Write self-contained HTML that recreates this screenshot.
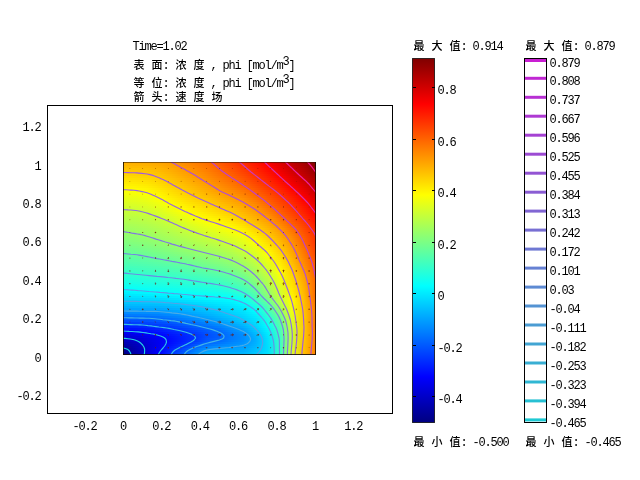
<!DOCTYPE html>
<html lang="zh"><head><meta charset="utf-8"><title>Time=1.02</title>
<style>html,body{margin:0;padding:0;background:#fff}svg{display:block}text{font-family:"Liberation Mono","Noto Serif CJK SC",monospace;fill:#000}.l{font-size:12px}.c{font-size:11px;font-weight:500;font-family:"Liberation Sans","Noto Sans CJK SC",sans-serif}</style></head><body>
<svg width="640" height="480" viewBox="0 0 640 480">
<rect width="640" height="480" fill="#fff"/>
<defs>
<linearGradient id="r0"><stop offset="0" stop-color="#ffb000"/><stop offset="0.0625" stop-color="#ffaf00"/><stop offset="0.125" stop-color="#ffac00"/><stop offset="0.1875" stop-color="#ffa600"/><stop offset="0.25" stop-color="#ff9b00"/><stop offset="0.3125" stop-color="#ff8c00"/><stop offset="0.375" stop-color="#ff7e00"/><stop offset="0.4375" stop-color="#ff6e00"/><stop offset="0.5" stop-color="#ff5900"/><stop offset="0.5625" stop-color="#ff4400"/><stop offset="0.625" stop-color="#ff2d00"/><stop offset="0.6875" stop-color="#ff1400"/><stop offset="0.75" stop-color="#fa0000"/><stop offset="0.8125" stop-color="#dd0000"/><stop offset="0.875" stop-color="#c00000"/><stop offset="0.9375" stop-color="#a40000"/><stop offset="1" stop-color="#800000"/></linearGradient>
<linearGradient id="r1"><stop offset="0" stop-color="#ffb600"/><stop offset="0.0625" stop-color="#ffb400"/><stop offset="0.125" stop-color="#ffb200"/><stop offset="0.1875" stop-color="#ffab00"/><stop offset="0.25" stop-color="#ffa000"/><stop offset="0.3125" stop-color="#ff9100"/><stop offset="0.375" stop-color="#ff8200"/><stop offset="0.4375" stop-color="#ff7200"/><stop offset="0.5" stop-color="#ff5d00"/><stop offset="0.5625" stop-color="#ff4800"/><stop offset="0.625" stop-color="#ff3100"/><stop offset="0.6875" stop-color="#ff1900"/><stop offset="0.75" stop-color="#ff0000"/><stop offset="0.8125" stop-color="#e20000"/><stop offset="0.875" stop-color="#c40000"/><stop offset="0.9375" stop-color="#a90000"/><stop offset="1" stop-color="#850000"/></linearGradient>
<linearGradient id="r2"><stop offset="0" stop-color="#ffbc00"/><stop offset="0.0625" stop-color="#ffba00"/><stop offset="0.125" stop-color="#ffb800"/><stop offset="0.1875" stop-color="#ffb000"/><stop offset="0.25" stop-color="#ffa400"/><stop offset="0.3125" stop-color="#ff9500"/><stop offset="0.375" stop-color="#ff8600"/><stop offset="0.4375" stop-color="#ff7600"/><stop offset="0.5" stop-color="#ff6200"/><stop offset="0.5625" stop-color="#ff4d00"/><stop offset="0.625" stop-color="#ff3600"/><stop offset="0.6875" stop-color="#ff1e00"/><stop offset="0.75" stop-color="#ff0500"/><stop offset="0.8125" stop-color="#e70000"/><stop offset="0.875" stop-color="#c90000"/><stop offset="0.9375" stop-color="#ae0000"/><stop offset="1" stop-color="#8b0000"/></linearGradient>
<linearGradient id="r3"><stop offset="0" stop-color="#ffc200"/><stop offset="0.0625" stop-color="#ffc000"/><stop offset="0.125" stop-color="#ffbd00"/><stop offset="0.1875" stop-color="#ffb500"/><stop offset="0.25" stop-color="#ffa900"/><stop offset="0.3125" stop-color="#ff9a00"/><stop offset="0.375" stop-color="#ff8b00"/><stop offset="0.4375" stop-color="#ff7a00"/><stop offset="0.5" stop-color="#ff6600"/><stop offset="0.5625" stop-color="#ff5100"/><stop offset="0.625" stop-color="#ff3b00"/><stop offset="0.6875" stop-color="#ff2200"/><stop offset="0.75" stop-color="#ff0900"/><stop offset="0.8125" stop-color="#ec0000"/><stop offset="0.875" stop-color="#ce0000"/><stop offset="0.9375" stop-color="#b30000"/><stop offset="1" stop-color="#900000"/></linearGradient>
<linearGradient id="r4"><stop offset="0" stop-color="#ffc700"/><stop offset="0.0625" stop-color="#ffc600"/><stop offset="0.125" stop-color="#ffc300"/><stop offset="0.1875" stop-color="#ffba00"/><stop offset="0.25" stop-color="#ffae00"/><stop offset="0.3125" stop-color="#ff9e00"/><stop offset="0.375" stop-color="#ff8f00"/><stop offset="0.4375" stop-color="#ff7e00"/><stop offset="0.5" stop-color="#ff6a00"/><stop offset="0.5625" stop-color="#ff5600"/><stop offset="0.625" stop-color="#ff3f00"/><stop offset="0.6875" stop-color="#ff2700"/><stop offset="0.75" stop-color="#ff0e00"/><stop offset="0.8125" stop-color="#f10000"/><stop offset="0.875" stop-color="#d30000"/><stop offset="0.9375" stop-color="#b80000"/><stop offset="1" stop-color="#950000"/></linearGradient>
<linearGradient id="r5"><stop offset="0" stop-color="#ffcd00"/><stop offset="0.0625" stop-color="#ffcc00"/><stop offset="0.125" stop-color="#ffc900"/><stop offset="0.1875" stop-color="#ffbf00"/><stop offset="0.25" stop-color="#ffb200"/><stop offset="0.3125" stop-color="#ffa300"/><stop offset="0.375" stop-color="#ff9400"/><stop offset="0.4375" stop-color="#ff8300"/><stop offset="0.5" stop-color="#ff6f00"/><stop offset="0.5625" stop-color="#ff5b00"/><stop offset="0.625" stop-color="#ff4400"/><stop offset="0.6875" stop-color="#ff2c00"/><stop offset="0.75" stop-color="#ff1300"/><stop offset="0.8125" stop-color="#f60000"/><stop offset="0.875" stop-color="#d80000"/><stop offset="0.9375" stop-color="#bc0000"/><stop offset="1" stop-color="#9a0000"/></linearGradient>
<linearGradient id="r6"><stop offset="0" stop-color="#ffd400"/><stop offset="0.0625" stop-color="#ffd200"/><stop offset="0.125" stop-color="#ffce00"/><stop offset="0.1875" stop-color="#ffc400"/><stop offset="0.25" stop-color="#ffb700"/><stop offset="0.3125" stop-color="#ffa700"/><stop offset="0.375" stop-color="#ff9800"/><stop offset="0.4375" stop-color="#ff8700"/><stop offset="0.5" stop-color="#ff7300"/><stop offset="0.5625" stop-color="#ff5f00"/><stop offset="0.625" stop-color="#ff4900"/><stop offset="0.6875" stop-color="#ff3100"/><stop offset="0.75" stop-color="#ff1800"/><stop offset="0.8125" stop-color="#fb0000"/><stop offset="0.875" stop-color="#dd0000"/><stop offset="0.9375" stop-color="#c10000"/><stop offset="1" stop-color="#9f0000"/></linearGradient>
<linearGradient id="r7"><stop offset="0" stop-color="#ffda00"/><stop offset="0.0625" stop-color="#ffd800"/><stop offset="0.125" stop-color="#ffd400"/><stop offset="0.1875" stop-color="#ffc900"/><stop offset="0.25" stop-color="#ffbb00"/><stop offset="0.3125" stop-color="#ffac00"/><stop offset="0.375" stop-color="#ff9c00"/><stop offset="0.4375" stop-color="#ff8b00"/><stop offset="0.5" stop-color="#ff7800"/><stop offset="0.5625" stop-color="#ff6400"/><stop offset="0.625" stop-color="#ff4f00"/><stop offset="0.6875" stop-color="#ff3600"/><stop offset="0.75" stop-color="#ff1d00"/><stop offset="0.8125" stop-color="#ff0200"/><stop offset="0.875" stop-color="#e30000"/><stop offset="0.9375" stop-color="#c60000"/><stop offset="1" stop-color="#a40000"/></linearGradient>
<linearGradient id="r8"><stop offset="0" stop-color="#ffe000"/><stop offset="0.0625" stop-color="#ffde00"/><stop offset="0.125" stop-color="#ffd900"/><stop offset="0.1875" stop-color="#ffce00"/><stop offset="0.25" stop-color="#ffc000"/><stop offset="0.3125" stop-color="#ffb100"/><stop offset="0.375" stop-color="#ffa100"/><stop offset="0.4375" stop-color="#ff9000"/><stop offset="0.5" stop-color="#ff7d00"/><stop offset="0.5625" stop-color="#ff6900"/><stop offset="0.625" stop-color="#ff5400"/><stop offset="0.6875" stop-color="#ff3b00"/><stop offset="0.75" stop-color="#ff2200"/><stop offset="0.8125" stop-color="#ff0700"/><stop offset="0.875" stop-color="#e80000"/><stop offset="0.9375" stop-color="#cb0000"/><stop offset="1" stop-color="#a90000"/></linearGradient>
<linearGradient id="r9"><stop offset="0" stop-color="#ffe600"/><stop offset="0.0625" stop-color="#ffe400"/><stop offset="0.125" stop-color="#ffdf00"/><stop offset="0.1875" stop-color="#ffd300"/><stop offset="0.25" stop-color="#ffc500"/><stop offset="0.3125" stop-color="#ffb500"/><stop offset="0.375" stop-color="#ffa500"/><stop offset="0.4375" stop-color="#ff9400"/><stop offset="0.5" stop-color="#ff8100"/><stop offset="0.5625" stop-color="#ff6e00"/><stop offset="0.625" stop-color="#ff5900"/><stop offset="0.6875" stop-color="#ff4100"/><stop offset="0.75" stop-color="#ff2800"/><stop offset="0.8125" stop-color="#ff0d00"/><stop offset="0.875" stop-color="#ed0000"/><stop offset="0.9375" stop-color="#d00000"/><stop offset="1" stop-color="#ae0000"/></linearGradient>
<linearGradient id="r10"><stop offset="0" stop-color="#ffec00"/><stop offset="0.0625" stop-color="#ffea00"/><stop offset="0.125" stop-color="#ffe400"/><stop offset="0.1875" stop-color="#ffd800"/><stop offset="0.25" stop-color="#ffc900"/><stop offset="0.3125" stop-color="#ffba00"/><stop offset="0.375" stop-color="#ffaa00"/><stop offset="0.4375" stop-color="#ff9900"/><stop offset="0.5" stop-color="#ff8600"/><stop offset="0.5625" stop-color="#ff7400"/><stop offset="0.625" stop-color="#ff5f00"/><stop offset="0.6875" stop-color="#ff4600"/><stop offset="0.75" stop-color="#ff2d00"/><stop offset="0.8125" stop-color="#ff1200"/><stop offset="0.875" stop-color="#f30000"/><stop offset="0.9375" stop-color="#d60000"/><stop offset="1" stop-color="#b40000"/></linearGradient>
<linearGradient id="r11"><stop offset="0" stop-color="#fff100"/><stop offset="0.0625" stop-color="#fff000"/><stop offset="0.125" stop-color="#ffea00"/><stop offset="0.1875" stop-color="#ffdd00"/><stop offset="0.25" stop-color="#ffce00"/><stop offset="0.3125" stop-color="#ffbf00"/><stop offset="0.375" stop-color="#ffaf00"/><stop offset="0.4375" stop-color="#ff9e00"/><stop offset="0.5" stop-color="#ff8b00"/><stop offset="0.5625" stop-color="#ff7900"/><stop offset="0.625" stop-color="#ff6400"/><stop offset="0.6875" stop-color="#ff4c00"/><stop offset="0.75" stop-color="#ff3200"/><stop offset="0.8125" stop-color="#ff1800"/><stop offset="0.875" stop-color="#f80000"/><stop offset="0.9375" stop-color="#db0000"/><stop offset="1" stop-color="#b90000"/></linearGradient>
<linearGradient id="r12"><stop offset="0" stop-color="#fff700"/><stop offset="0.0625" stop-color="#fff500"/><stop offset="0.125" stop-color="#ffef00"/><stop offset="0.1875" stop-color="#ffe200"/><stop offset="0.25" stop-color="#ffd300"/><stop offset="0.3125" stop-color="#ffc300"/><stop offset="0.375" stop-color="#ffb400"/><stop offset="0.4375" stop-color="#ffa300"/><stop offset="0.5" stop-color="#ff9000"/><stop offset="0.5625" stop-color="#ff7e00"/><stop offset="0.625" stop-color="#ff6a00"/><stop offset="0.6875" stop-color="#ff5100"/><stop offset="0.75" stop-color="#ff3800"/><stop offset="0.8125" stop-color="#ff1d00"/><stop offset="0.875" stop-color="#fe0000"/><stop offset="0.9375" stop-color="#e00000"/><stop offset="1" stop-color="#be0000"/></linearGradient>
<linearGradient id="r13"><stop offset="0" stop-color="#fffd00"/><stop offset="0.0625" stop-color="#fffb00"/><stop offset="0.125" stop-color="#fff500"/><stop offset="0.1875" stop-color="#ffe800"/><stop offset="0.25" stop-color="#ffd800"/><stop offset="0.3125" stop-color="#ffc800"/><stop offset="0.375" stop-color="#ffb800"/><stop offset="0.4375" stop-color="#ffa800"/><stop offset="0.5" stop-color="#ff9500"/><stop offset="0.5625" stop-color="#ff8400"/><stop offset="0.625" stop-color="#ff7000"/><stop offset="0.6875" stop-color="#ff5700"/><stop offset="0.75" stop-color="#ff3d00"/><stop offset="0.8125" stop-color="#ff2300"/><stop offset="0.875" stop-color="#ff0500"/><stop offset="0.9375" stop-color="#e50000"/><stop offset="1" stop-color="#c30000"/></linearGradient>
<linearGradient id="r14"><stop offset="0" stop-color="#fcff03"/><stop offset="0.0625" stop-color="#fdff02"/><stop offset="0.125" stop-color="#fffa00"/><stop offset="0.1875" stop-color="#ffed00"/><stop offset="0.25" stop-color="#ffdd00"/><stop offset="0.3125" stop-color="#ffcd00"/><stop offset="0.375" stop-color="#ffbd00"/><stop offset="0.4375" stop-color="#ffad00"/><stop offset="0.5" stop-color="#ff9a00"/><stop offset="0.5625" stop-color="#ff8a00"/><stop offset="0.625" stop-color="#ff7600"/><stop offset="0.6875" stop-color="#ff5d00"/><stop offset="0.75" stop-color="#ff4300"/><stop offset="0.8125" stop-color="#ff2900"/><stop offset="0.875" stop-color="#ff0a00"/><stop offset="0.9375" stop-color="#eb0000"/><stop offset="1" stop-color="#c80000"/></linearGradient>
<linearGradient id="r15"><stop offset="0" stop-color="#f6ff09"/><stop offset="0.0625" stop-color="#f8ff07"/><stop offset="0.125" stop-color="#ffff00"/><stop offset="0.1875" stop-color="#fff200"/><stop offset="0.25" stop-color="#ffe100"/><stop offset="0.3125" stop-color="#ffd200"/><stop offset="0.375" stop-color="#ffc200"/><stop offset="0.4375" stop-color="#ffb200"/><stop offset="0.5" stop-color="#ffa000"/><stop offset="0.5625" stop-color="#ff8f00"/><stop offset="0.625" stop-color="#ff7c00"/><stop offset="0.6875" stop-color="#ff6300"/><stop offset="0.75" stop-color="#ff4800"/><stop offset="0.8125" stop-color="#ff2e00"/><stop offset="0.875" stop-color="#ff1000"/><stop offset="0.9375" stop-color="#f00000"/><stop offset="1" stop-color="#cd0000"/></linearGradient>
<linearGradient id="r16"><stop offset="0" stop-color="#f1ff0e"/><stop offset="0.0625" stop-color="#f3ff0c"/><stop offset="0.125" stop-color="#faff05"/><stop offset="0.1875" stop-color="#fff700"/><stop offset="0.25" stop-color="#ffe600"/><stop offset="0.3125" stop-color="#ffd600"/><stop offset="0.375" stop-color="#ffc700"/><stop offset="0.4375" stop-color="#ffb800"/><stop offset="0.5" stop-color="#ffa600"/><stop offset="0.5625" stop-color="#ff9500"/><stop offset="0.625" stop-color="#ff8200"/><stop offset="0.6875" stop-color="#ff6900"/><stop offset="0.75" stop-color="#ff4e00"/><stop offset="0.8125" stop-color="#ff3400"/><stop offset="0.875" stop-color="#ff1500"/><stop offset="0.9375" stop-color="#f50000"/><stop offset="1" stop-color="#d20000"/></linearGradient>
<linearGradient id="r17"><stop offset="0" stop-color="#ebff14"/><stop offset="0.0625" stop-color="#eeff11"/><stop offset="0.125" stop-color="#f4ff0b"/><stop offset="0.1875" stop-color="#fffc00"/><stop offset="0.25" stop-color="#ffeb00"/><stop offset="0.3125" stop-color="#ffdb00"/><stop offset="0.375" stop-color="#ffcc00"/><stop offset="0.4375" stop-color="#ffbd00"/><stop offset="0.5" stop-color="#ffac00"/><stop offset="0.5625" stop-color="#ff9b00"/><stop offset="0.625" stop-color="#ff8800"/><stop offset="0.6875" stop-color="#ff6f00"/><stop offset="0.75" stop-color="#ff5400"/><stop offset="0.8125" stop-color="#ff3900"/><stop offset="0.875" stop-color="#ff1b00"/><stop offset="0.9375" stop-color="#fa0000"/><stop offset="1" stop-color="#d70000"/></linearGradient>
<linearGradient id="r18"><stop offset="0" stop-color="#e6ff19"/><stop offset="0.0625" stop-color="#e8ff17"/><stop offset="0.125" stop-color="#efff10"/><stop offset="0.1875" stop-color="#fdff02"/><stop offset="0.25" stop-color="#fff000"/><stop offset="0.3125" stop-color="#ffe000"/><stop offset="0.375" stop-color="#ffd100"/><stop offset="0.4375" stop-color="#ffc300"/><stop offset="0.5" stop-color="#ffb100"/><stop offset="0.5625" stop-color="#ffa100"/><stop offset="0.625" stop-color="#ff8f00"/><stop offset="0.6875" stop-color="#ff7600"/><stop offset="0.75" stop-color="#ff5900"/><stop offset="0.8125" stop-color="#ff3e00"/><stop offset="0.875" stop-color="#ff2000"/><stop offset="0.9375" stop-color="#ff0000"/><stop offset="1" stop-color="#dc0000"/></linearGradient>
<linearGradient id="r19"><stop offset="0" stop-color="#e1ff1e"/><stop offset="0.0625" stop-color="#e3ff1c"/><stop offset="0.125" stop-color="#eaff15"/><stop offset="0.1875" stop-color="#f8ff07"/><stop offset="0.25" stop-color="#fff500"/><stop offset="0.3125" stop-color="#ffe500"/><stop offset="0.375" stop-color="#ffd600"/><stop offset="0.4375" stop-color="#ffc800"/><stop offset="0.5" stop-color="#ffb700"/><stop offset="0.5625" stop-color="#ffa700"/><stop offset="0.625" stop-color="#ff9500"/><stop offset="0.6875" stop-color="#ff7c00"/><stop offset="0.75" stop-color="#ff5f00"/><stop offset="0.8125" stop-color="#ff4300"/><stop offset="0.875" stop-color="#ff2600"/><stop offset="0.9375" stop-color="#ff0600"/><stop offset="1" stop-color="#e10000"/></linearGradient>
<linearGradient id="r20"><stop offset="0" stop-color="#dcff23"/><stop offset="0.0625" stop-color="#deff21"/><stop offset="0.125" stop-color="#e5ff1a"/><stop offset="0.1875" stop-color="#f2ff0d"/><stop offset="0.25" stop-color="#fffb00"/><stop offset="0.3125" stop-color="#ffea00"/><stop offset="0.375" stop-color="#ffdc00"/><stop offset="0.4375" stop-color="#ffcd00"/><stop offset="0.5" stop-color="#ffbd00"/><stop offset="0.5625" stop-color="#ffad00"/><stop offset="0.625" stop-color="#ff9b00"/><stop offset="0.6875" stop-color="#ff8300"/><stop offset="0.75" stop-color="#ff6500"/><stop offset="0.8125" stop-color="#ff4800"/><stop offset="0.875" stop-color="#ff2b00"/><stop offset="0.9375" stop-color="#ff0b00"/><stop offset="1" stop-color="#e60000"/></linearGradient>
<linearGradient id="r21"><stop offset="0" stop-color="#d7ff28"/><stop offset="0.0625" stop-color="#d9ff26"/><stop offset="0.125" stop-color="#e0ff1f"/><stop offset="0.1875" stop-color="#edff12"/><stop offset="0.25" stop-color="#feff01"/><stop offset="0.3125" stop-color="#fff000"/><stop offset="0.375" stop-color="#ffe100"/><stop offset="0.4375" stop-color="#ffd300"/><stop offset="0.5" stop-color="#ffc300"/><stop offset="0.5625" stop-color="#ffb300"/><stop offset="0.625" stop-color="#ffa100"/><stop offset="0.6875" stop-color="#ff8900"/><stop offset="0.75" stop-color="#ff6b00"/><stop offset="0.8125" stop-color="#ff4d00"/><stop offset="0.875" stop-color="#ff3000"/><stop offset="0.9375" stop-color="#ff1000"/><stop offset="1" stop-color="#eb0000"/></linearGradient>
<linearGradient id="r22"><stop offset="0" stop-color="#d2ff2d"/><stop offset="0.0625" stop-color="#d4ff2b"/><stop offset="0.125" stop-color="#dbff24"/><stop offset="0.1875" stop-color="#e8ff17"/><stop offset="0.25" stop-color="#f8ff07"/><stop offset="0.3125" stop-color="#fff500"/><stop offset="0.375" stop-color="#ffe600"/><stop offset="0.4375" stop-color="#ffd800"/><stop offset="0.5" stop-color="#ffc900"/><stop offset="0.5625" stop-color="#ffb900"/><stop offset="0.625" stop-color="#ffa700"/><stop offset="0.6875" stop-color="#ff9000"/><stop offset="0.75" stop-color="#ff7100"/><stop offset="0.8125" stop-color="#ff5200"/><stop offset="0.875" stop-color="#ff3500"/><stop offset="0.9375" stop-color="#ff1500"/><stop offset="1" stop-color="#ef0000"/></linearGradient>
<linearGradient id="r23"><stop offset="0" stop-color="#cdff32"/><stop offset="0.0625" stop-color="#cfff30"/><stop offset="0.125" stop-color="#d6ff29"/><stop offset="0.1875" stop-color="#e2ff1d"/><stop offset="0.25" stop-color="#f3ff0c"/><stop offset="0.3125" stop-color="#fffa00"/><stop offset="0.375" stop-color="#ffeb00"/><stop offset="0.4375" stop-color="#ffde00"/><stop offset="0.5" stop-color="#ffcf00"/><stop offset="0.5625" stop-color="#ffc000"/><stop offset="0.625" stop-color="#ffac00"/><stop offset="0.6875" stop-color="#ff9600"/><stop offset="0.75" stop-color="#ff7800"/><stop offset="0.8125" stop-color="#ff5800"/><stop offset="0.875" stop-color="#ff3a00"/><stop offset="0.9375" stop-color="#ff1900"/><stop offset="1" stop-color="#f40000"/></linearGradient>
<linearGradient id="r24"><stop offset="0" stop-color="#c8ff37"/><stop offset="0.0625" stop-color="#caff35"/><stop offset="0.125" stop-color="#d1ff2e"/><stop offset="0.1875" stop-color="#ddff22"/><stop offset="0.25" stop-color="#edff12"/><stop offset="0.3125" stop-color="#feff01"/><stop offset="0.375" stop-color="#fff100"/><stop offset="0.4375" stop-color="#ffe300"/><stop offset="0.5" stop-color="#ffd500"/><stop offset="0.5625" stop-color="#ffc600"/><stop offset="0.625" stop-color="#ffb200"/><stop offset="0.6875" stop-color="#ff9d00"/><stop offset="0.75" stop-color="#ff7f00"/><stop offset="0.8125" stop-color="#ff5d00"/><stop offset="0.875" stop-color="#ff3e00"/><stop offset="0.9375" stop-color="#ff1e00"/><stop offset="1" stop-color="#f90000"/></linearGradient>
<linearGradient id="r25"><stop offset="0" stop-color="#c4ff3b"/><stop offset="0.0625" stop-color="#c6ff39"/><stop offset="0.125" stop-color="#ccff33"/><stop offset="0.1875" stop-color="#d8ff27"/><stop offset="0.25" stop-color="#e7ff18"/><stop offset="0.3125" stop-color="#f8ff07"/><stop offset="0.375" stop-color="#fff600"/><stop offset="0.4375" stop-color="#ffe900"/><stop offset="0.5" stop-color="#ffdb00"/><stop offset="0.5625" stop-color="#ffcc00"/><stop offset="0.625" stop-color="#ffb800"/><stop offset="0.6875" stop-color="#ffa200"/><stop offset="0.75" stop-color="#ff8500"/><stop offset="0.8125" stop-color="#ff6300"/><stop offset="0.875" stop-color="#ff4300"/><stop offset="0.9375" stop-color="#ff2200"/><stop offset="1" stop-color="#fe0000"/></linearGradient>
<linearGradient id="r26"><stop offset="0" stop-color="#bfff40"/><stop offset="0.0625" stop-color="#c1ff3e"/><stop offset="0.125" stop-color="#c8ff37"/><stop offset="0.1875" stop-color="#d2ff2d"/><stop offset="0.25" stop-color="#e1ff1e"/><stop offset="0.3125" stop-color="#f2ff0d"/><stop offset="0.375" stop-color="#fffc00"/><stop offset="0.4375" stop-color="#ffee00"/><stop offset="0.5" stop-color="#ffe100"/><stop offset="0.5625" stop-color="#ffd200"/><stop offset="0.625" stop-color="#ffbd00"/><stop offset="0.6875" stop-color="#ffa800"/><stop offset="0.75" stop-color="#ff8c00"/><stop offset="0.8125" stop-color="#ff6900"/><stop offset="0.875" stop-color="#ff4800"/><stop offset="0.9375" stop-color="#ff2700"/><stop offset="1" stop-color="#ff0300"/></linearGradient>
<linearGradient id="r27"><stop offset="0" stop-color="#baff45"/><stop offset="0.0625" stop-color="#bdff42"/><stop offset="0.125" stop-color="#c3ff3c"/><stop offset="0.1875" stop-color="#cdff32"/><stop offset="0.25" stop-color="#dbff24"/><stop offset="0.3125" stop-color="#ecff13"/><stop offset="0.375" stop-color="#fcff03"/><stop offset="0.4375" stop-color="#fff400"/><stop offset="0.5" stop-color="#ffe800"/><stop offset="0.5625" stop-color="#ffd800"/><stop offset="0.625" stop-color="#ffc300"/><stop offset="0.6875" stop-color="#ffae00"/><stop offset="0.75" stop-color="#ff9300"/><stop offset="0.8125" stop-color="#ff6f00"/><stop offset="0.875" stop-color="#ff4d00"/><stop offset="0.9375" stop-color="#ff2c00"/><stop offset="1" stop-color="#ff0800"/></linearGradient>
<linearGradient id="r28"><stop offset="0" stop-color="#b5ff4a"/><stop offset="0.0625" stop-color="#b8ff47"/><stop offset="0.125" stop-color="#beff41"/><stop offset="0.1875" stop-color="#c8ff37"/><stop offset="0.25" stop-color="#d6ff29"/><stop offset="0.3125" stop-color="#e6ff19"/><stop offset="0.375" stop-color="#f6ff09"/><stop offset="0.4375" stop-color="#fffa00"/><stop offset="0.5" stop-color="#ffee00"/><stop offset="0.5625" stop-color="#ffde00"/><stop offset="0.625" stop-color="#ffc900"/><stop offset="0.6875" stop-color="#ffb300"/><stop offset="0.75" stop-color="#ff9900"/><stop offset="0.8125" stop-color="#ff7600"/><stop offset="0.875" stop-color="#ff5300"/><stop offset="0.9375" stop-color="#ff3100"/><stop offset="1" stop-color="#ff0d00"/></linearGradient>
<linearGradient id="r29"><stop offset="0" stop-color="#b1ff4e"/><stop offset="0.0625" stop-color="#b4ff4b"/><stop offset="0.125" stop-color="#baff45"/><stop offset="0.1875" stop-color="#c3ff3c"/><stop offset="0.25" stop-color="#d0ff2f"/><stop offset="0.3125" stop-color="#e0ff1f"/><stop offset="0.375" stop-color="#f0ff0f"/><stop offset="0.4375" stop-color="#feff01"/><stop offset="0.5" stop-color="#fff400"/><stop offset="0.5625" stop-color="#ffe500"/><stop offset="0.625" stop-color="#ffd000"/><stop offset="0.6875" stop-color="#ffb900"/><stop offset="0.75" stop-color="#ff9f00"/><stop offset="0.8125" stop-color="#ff7d00"/><stop offset="0.875" stop-color="#ff5800"/><stop offset="0.9375" stop-color="#ff3600"/><stop offset="1" stop-color="#ff1100"/></linearGradient>
<linearGradient id="r30"><stop offset="0" stop-color="#acff53"/><stop offset="0.0625" stop-color="#b0ff4f"/><stop offset="0.125" stop-color="#b6ff49"/><stop offset="0.1875" stop-color="#bfff40"/><stop offset="0.25" stop-color="#cbff34"/><stop offset="0.3125" stop-color="#daff25"/><stop offset="0.375" stop-color="#eaff15"/><stop offset="0.4375" stop-color="#f7ff08"/><stop offset="0.5" stop-color="#fffa00"/><stop offset="0.5625" stop-color="#ffeb00"/><stop offset="0.625" stop-color="#ffd700"/><stop offset="0.6875" stop-color="#ffbf00"/><stop offset="0.75" stop-color="#ffa600"/><stop offset="0.8125" stop-color="#ff8400"/><stop offset="0.875" stop-color="#ff5e00"/><stop offset="0.9375" stop-color="#ff3b00"/><stop offset="1" stop-color="#ff1600"/></linearGradient>
<linearGradient id="r31"><stop offset="0" stop-color="#a7ff58"/><stop offset="0.0625" stop-color="#abff54"/><stop offset="0.125" stop-color="#b1ff4e"/><stop offset="0.1875" stop-color="#baff45"/><stop offset="0.25" stop-color="#c6ff39"/><stop offset="0.3125" stop-color="#d4ff2b"/><stop offset="0.375" stop-color="#e3ff1c"/><stop offset="0.4375" stop-color="#f1ff0e"/><stop offset="0.5" stop-color="#fdff02"/><stop offset="0.5625" stop-color="#fff200"/><stop offset="0.625" stop-color="#ffde00"/><stop offset="0.6875" stop-color="#ffc500"/><stop offset="0.75" stop-color="#ffac00"/><stop offset="0.8125" stop-color="#ff8b00"/><stop offset="0.875" stop-color="#ff6400"/><stop offset="0.9375" stop-color="#ff4000"/><stop offset="1" stop-color="#ff1b00"/></linearGradient>
<linearGradient id="r32"><stop offset="0" stop-color="#a3ff5c"/><stop offset="0.0625" stop-color="#a7ff58"/><stop offset="0.125" stop-color="#adff52"/><stop offset="0.1875" stop-color="#b6ff49"/><stop offset="0.25" stop-color="#c1ff3e"/><stop offset="0.3125" stop-color="#ceff31"/><stop offset="0.375" stop-color="#ddff22"/><stop offset="0.4375" stop-color="#ebff14"/><stop offset="0.5" stop-color="#f7ff08"/><stop offset="0.5625" stop-color="#fff900"/><stop offset="0.625" stop-color="#ffe500"/><stop offset="0.6875" stop-color="#ffcb00"/><stop offset="0.75" stop-color="#ffb200"/><stop offset="0.8125" stop-color="#ff9200"/><stop offset="0.875" stop-color="#ff6b00"/><stop offset="0.9375" stop-color="#ff4500"/><stop offset="1" stop-color="#ff1f00"/></linearGradient>
<linearGradient id="r33"><stop offset="0" stop-color="#9eff61"/><stop offset="0.0625" stop-color="#a3ff5c"/><stop offset="0.125" stop-color="#a9ff56"/><stop offset="0.1875" stop-color="#b1ff4e"/><stop offset="0.25" stop-color="#bcff43"/><stop offset="0.3125" stop-color="#c9ff36"/><stop offset="0.375" stop-color="#d7ff28"/><stop offset="0.4375" stop-color="#e4ff1b"/><stop offset="0.5" stop-color="#f0ff0f"/><stop offset="0.5625" stop-color="#feff01"/><stop offset="0.625" stop-color="#ffed00"/><stop offset="0.6875" stop-color="#ffd200"/><stop offset="0.75" stop-color="#ffb800"/><stop offset="0.8125" stop-color="#ff9800"/><stop offset="0.875" stop-color="#ff7100"/><stop offset="0.9375" stop-color="#ff4a00"/><stop offset="1" stop-color="#ff2400"/></linearGradient>
<linearGradient id="r34"><stop offset="0" stop-color="#9aff65"/><stop offset="0.0625" stop-color="#9eff61"/><stop offset="0.125" stop-color="#a4ff5b"/><stop offset="0.1875" stop-color="#adff52"/><stop offset="0.25" stop-color="#b7ff48"/><stop offset="0.3125" stop-color="#c3ff3c"/><stop offset="0.375" stop-color="#d0ff2f"/><stop offset="0.4375" stop-color="#deff21"/><stop offset="0.5" stop-color="#eaff15"/><stop offset="0.5625" stop-color="#f7ff08"/><stop offset="0.625" stop-color="#fff400"/><stop offset="0.6875" stop-color="#ffd900"/><stop offset="0.75" stop-color="#ffbe00"/><stop offset="0.8125" stop-color="#ff9e00"/><stop offset="0.875" stop-color="#ff7700"/><stop offset="0.9375" stop-color="#ff4f00"/><stop offset="1" stop-color="#ff2800"/></linearGradient>
<linearGradient id="r35"><stop offset="0" stop-color="#95ff6a"/><stop offset="0.0625" stop-color="#9aff65"/><stop offset="0.125" stop-color="#a0ff5f"/><stop offset="0.1875" stop-color="#a9ff56"/><stop offset="0.25" stop-color="#b2ff4d"/><stop offset="0.3125" stop-color="#beff41"/><stop offset="0.375" stop-color="#caff35"/><stop offset="0.4375" stop-color="#d7ff28"/><stop offset="0.5" stop-color="#e3ff1c"/><stop offset="0.5625" stop-color="#f1ff0e"/><stop offset="0.625" stop-color="#fffc00"/><stop offset="0.6875" stop-color="#ffe000"/><stop offset="0.75" stop-color="#ffc400"/><stop offset="0.8125" stop-color="#ffa400"/><stop offset="0.875" stop-color="#ff7c00"/><stop offset="0.9375" stop-color="#ff5300"/><stop offset="1" stop-color="#ff2c00"/></linearGradient>
<linearGradient id="r36"><stop offset="0" stop-color="#91ff6e"/><stop offset="0.0625" stop-color="#96ff69"/><stop offset="0.125" stop-color="#9cff63"/><stop offset="0.1875" stop-color="#a4ff5b"/><stop offset="0.25" stop-color="#aeff51"/><stop offset="0.3125" stop-color="#b9ff46"/><stop offset="0.375" stop-color="#c5ff3a"/><stop offset="0.4375" stop-color="#d1ff2e"/><stop offset="0.5" stop-color="#ddff22"/><stop offset="0.5625" stop-color="#eaff15"/><stop offset="0.625" stop-color="#fbff04"/><stop offset="0.6875" stop-color="#ffe700"/><stop offset="0.75" stop-color="#ffc900"/><stop offset="0.8125" stop-color="#ffa900"/><stop offset="0.875" stop-color="#ff8200"/><stop offset="0.9375" stop-color="#ff5700"/><stop offset="1" stop-color="#ff3000"/></linearGradient>
<linearGradient id="r37"><stop offset="0" stop-color="#8cff73"/><stop offset="0.0625" stop-color="#91ff6e"/><stop offset="0.125" stop-color="#97ff68"/><stop offset="0.1875" stop-color="#a0ff5f"/><stop offset="0.25" stop-color="#a9ff56"/><stop offset="0.3125" stop-color="#b4ff4b"/><stop offset="0.375" stop-color="#bfff40"/><stop offset="0.4375" stop-color="#cbff34"/><stop offset="0.5" stop-color="#d7ff28"/><stop offset="0.5625" stop-color="#e4ff1b"/><stop offset="0.625" stop-color="#f4ff0b"/><stop offset="0.6875" stop-color="#ffee00"/><stop offset="0.75" stop-color="#ffcf00"/><stop offset="0.8125" stop-color="#ffae00"/><stop offset="0.875" stop-color="#ff8700"/><stop offset="0.9375" stop-color="#ff5b00"/><stop offset="1" stop-color="#ff3200"/></linearGradient>
<linearGradient id="r38"><stop offset="0" stop-color="#88ff77"/><stop offset="0.0625" stop-color="#8cff73"/><stop offset="0.125" stop-color="#93ff6c"/><stop offset="0.1875" stop-color="#9bff64"/><stop offset="0.25" stop-color="#a5ff5a"/><stop offset="0.3125" stop-color="#afff50"/><stop offset="0.375" stop-color="#b9ff46"/><stop offset="0.4375" stop-color="#c4ff3b"/><stop offset="0.5" stop-color="#d0ff2f"/><stop offset="0.5625" stop-color="#ddff22"/><stop offset="0.625" stop-color="#eeff11"/><stop offset="0.6875" stop-color="#fff400"/><stop offset="0.75" stop-color="#ffd500"/><stop offset="0.8125" stop-color="#ffb300"/><stop offset="0.875" stop-color="#ff8b00"/><stop offset="0.9375" stop-color="#ff5f00"/><stop offset="1" stop-color="#ff3300"/></linearGradient>
<linearGradient id="r39"><stop offset="0" stop-color="#83ff7c"/><stop offset="0.0625" stop-color="#88ff77"/><stop offset="0.125" stop-color="#8eff71"/><stop offset="0.1875" stop-color="#96ff69"/><stop offset="0.25" stop-color="#a0ff5f"/><stop offset="0.3125" stop-color="#a9ff56"/><stop offset="0.375" stop-color="#b4ff4b"/><stop offset="0.4375" stop-color="#beff41"/><stop offset="0.5" stop-color="#caff35"/><stop offset="0.5625" stop-color="#d7ff28"/><stop offset="0.625" stop-color="#e8ff17"/><stop offset="0.6875" stop-color="#fffa00"/><stop offset="0.75" stop-color="#ffda00"/><stop offset="0.8125" stop-color="#ffb800"/><stop offset="0.875" stop-color="#ff9000"/><stop offset="0.9375" stop-color="#ff6200"/><stop offset="1" stop-color="#ff3400"/></linearGradient>
<linearGradient id="r40"><stop offset="0" stop-color="#7fff80"/><stop offset="0.0625" stop-color="#83ff7c"/><stop offset="0.125" stop-color="#89ff76"/><stop offset="0.1875" stop-color="#92ff6d"/><stop offset="0.25" stop-color="#9bff64"/><stop offset="0.3125" stop-color="#a4ff5b"/><stop offset="0.375" stop-color="#aeff51"/><stop offset="0.4375" stop-color="#b8ff47"/><stop offset="0.5" stop-color="#c4ff3b"/><stop offset="0.5625" stop-color="#d1ff2e"/><stop offset="0.625" stop-color="#e2ff1d"/><stop offset="0.6875" stop-color="#fdff02"/><stop offset="0.75" stop-color="#ffe000"/><stop offset="0.8125" stop-color="#ffbd00"/><stop offset="0.875" stop-color="#ff9400"/><stop offset="0.9375" stop-color="#ff6600"/><stop offset="1" stop-color="#ff3500"/></linearGradient>
<linearGradient id="r41"><stop offset="0" stop-color="#7aff85"/><stop offset="0.0625" stop-color="#7eff81"/><stop offset="0.125" stop-color="#84ff7b"/><stop offset="0.1875" stop-color="#8dff72"/><stop offset="0.25" stop-color="#96ff69"/><stop offset="0.3125" stop-color="#9fff60"/><stop offset="0.375" stop-color="#a8ff57"/><stop offset="0.4375" stop-color="#b2ff4d"/><stop offset="0.5" stop-color="#beff41"/><stop offset="0.5625" stop-color="#cbff34"/><stop offset="0.625" stop-color="#dcff23"/><stop offset="0.6875" stop-color="#f7ff08"/><stop offset="0.75" stop-color="#ffe600"/><stop offset="0.8125" stop-color="#ffc200"/><stop offset="0.875" stop-color="#ff9900"/><stop offset="0.9375" stop-color="#ff6900"/><stop offset="1" stop-color="#ff3800"/></linearGradient>
<linearGradient id="r42"><stop offset="0" stop-color="#76ff89"/><stop offset="0.0625" stop-color="#79ff86"/><stop offset="0.125" stop-color="#7fff80"/><stop offset="0.1875" stop-color="#87ff78"/><stop offset="0.25" stop-color="#90ff6f"/><stop offset="0.3125" stop-color="#99ff66"/><stop offset="0.375" stop-color="#a3ff5c"/><stop offset="0.4375" stop-color="#acff53"/><stop offset="0.5" stop-color="#b7ff48"/><stop offset="0.5625" stop-color="#c5ff3a"/><stop offset="0.625" stop-color="#d6ff29"/><stop offset="0.6875" stop-color="#f1ff0e"/><stop offset="0.75" stop-color="#ffec00"/><stop offset="0.8125" stop-color="#ffc700"/><stop offset="0.875" stop-color="#ff9e00"/><stop offset="0.9375" stop-color="#ff6d00"/><stop offset="1" stop-color="#ff3b00"/></linearGradient>
<linearGradient id="r43"><stop offset="0" stop-color="#71ff8e"/><stop offset="0.0625" stop-color="#74ff8b"/><stop offset="0.125" stop-color="#7aff85"/><stop offset="0.1875" stop-color="#82ff7d"/><stop offset="0.25" stop-color="#8bff74"/><stop offset="0.3125" stop-color="#94ff6b"/><stop offset="0.375" stop-color="#9dff62"/><stop offset="0.4375" stop-color="#a6ff59"/><stop offset="0.5" stop-color="#b1ff4e"/><stop offset="0.5625" stop-color="#beff41"/><stop offset="0.625" stop-color="#d0ff2f"/><stop offset="0.6875" stop-color="#ebff14"/><stop offset="0.75" stop-color="#fff200"/><stop offset="0.8125" stop-color="#ffcc00"/><stop offset="0.875" stop-color="#ffa200"/><stop offset="0.9375" stop-color="#ff7100"/><stop offset="1" stop-color="#ff3e00"/></linearGradient>
<linearGradient id="r44"><stop offset="0" stop-color="#6cff93"/><stop offset="0.0625" stop-color="#6fff90"/><stop offset="0.125" stop-color="#75ff8a"/><stop offset="0.1875" stop-color="#7dff82"/><stop offset="0.25" stop-color="#85ff7a"/><stop offset="0.3125" stop-color="#8eff71"/><stop offset="0.375" stop-color="#97ff68"/><stop offset="0.4375" stop-color="#a0ff5f"/><stop offset="0.5" stop-color="#abff54"/><stop offset="0.5625" stop-color="#b8ff47"/><stop offset="0.625" stop-color="#caff35"/><stop offset="0.6875" stop-color="#e4ff1b"/><stop offset="0.75" stop-color="#fff800"/><stop offset="0.8125" stop-color="#ffd100"/><stop offset="0.875" stop-color="#ffa600"/><stop offset="0.9375" stop-color="#ff7500"/><stop offset="1" stop-color="#ff4100"/></linearGradient>
<linearGradient id="r45"><stop offset="0" stop-color="#67ff98"/><stop offset="0.0625" stop-color="#6aff95"/><stop offset="0.125" stop-color="#70ff8f"/><stop offset="0.1875" stop-color="#77ff88"/><stop offset="0.25" stop-color="#7fff80"/><stop offset="0.3125" stop-color="#88ff77"/><stop offset="0.375" stop-color="#91ff6e"/><stop offset="0.4375" stop-color="#9aff65"/><stop offset="0.5" stop-color="#a4ff5b"/><stop offset="0.5625" stop-color="#b1ff4e"/><stop offset="0.625" stop-color="#c4ff3b"/><stop offset="0.6875" stop-color="#deff21"/><stop offset="0.75" stop-color="#fffd00"/><stop offset="0.8125" stop-color="#ffd600"/><stop offset="0.875" stop-color="#ffaa00"/><stop offset="0.9375" stop-color="#ff7800"/><stop offset="1" stop-color="#ff4400"/></linearGradient>
<linearGradient id="r46"><stop offset="0" stop-color="#62ff9d"/><stop offset="0.0625" stop-color="#65ff9a"/><stop offset="0.125" stop-color="#6bff94"/><stop offset="0.1875" stop-color="#72ff8d"/><stop offset="0.25" stop-color="#79ff86"/><stop offset="0.3125" stop-color="#82ff7d"/><stop offset="0.375" stop-color="#8bff74"/><stop offset="0.4375" stop-color="#94ff6b"/><stop offset="0.5" stop-color="#9dff62"/><stop offset="0.5625" stop-color="#abff54"/><stop offset="0.625" stop-color="#bdff42"/><stop offset="0.6875" stop-color="#d8ff27"/><stop offset="0.75" stop-color="#fbff04"/><stop offset="0.8125" stop-color="#ffdb00"/><stop offset="0.875" stop-color="#ffae00"/><stop offset="0.9375" stop-color="#ff7c00"/><stop offset="1" stop-color="#ff4700"/></linearGradient>
<linearGradient id="r47"><stop offset="0" stop-color="#5dffa2"/><stop offset="0.0625" stop-color="#60ff9f"/><stop offset="0.125" stop-color="#65ff9a"/><stop offset="0.1875" stop-color="#6cff93"/><stop offset="0.25" stop-color="#73ff8c"/><stop offset="0.3125" stop-color="#7bff84"/><stop offset="0.375" stop-color="#84ff7b"/><stop offset="0.4375" stop-color="#8dff72"/><stop offset="0.5" stop-color="#97ff68"/><stop offset="0.5625" stop-color="#a4ff5b"/><stop offset="0.625" stop-color="#b7ff48"/><stop offset="0.6875" stop-color="#d2ff2d"/><stop offset="0.75" stop-color="#f6ff09"/><stop offset="0.8125" stop-color="#ffe000"/><stop offset="0.875" stop-color="#ffb200"/><stop offset="0.9375" stop-color="#ff7f00"/><stop offset="1" stop-color="#ff4b00"/></linearGradient>
<linearGradient id="r48"><stop offset="0" stop-color="#58ffa7"/><stop offset="0.0625" stop-color="#5bffa4"/><stop offset="0.125" stop-color="#60ff9f"/><stop offset="0.1875" stop-color="#66ff99"/><stop offset="0.25" stop-color="#6dff92"/><stop offset="0.3125" stop-color="#75ff8a"/><stop offset="0.375" stop-color="#7eff81"/><stop offset="0.4375" stop-color="#87ff78"/><stop offset="0.5" stop-color="#90ff6f"/><stop offset="0.5625" stop-color="#9dff62"/><stop offset="0.625" stop-color="#b1ff4e"/><stop offset="0.6875" stop-color="#ccff33"/><stop offset="0.75" stop-color="#f0ff0f"/><stop offset="0.8125" stop-color="#ffe400"/><stop offset="0.875" stop-color="#ffb700"/><stop offset="0.9375" stop-color="#ff8300"/><stop offset="1" stop-color="#ff4e00"/></linearGradient>
<linearGradient id="r49"><stop offset="0" stop-color="#53ffac"/><stop offset="0.0625" stop-color="#56ffa9"/><stop offset="0.125" stop-color="#5affa5"/><stop offset="0.1875" stop-color="#60ff9f"/><stop offset="0.25" stop-color="#67ff98"/><stop offset="0.3125" stop-color="#6eff91"/><stop offset="0.375" stop-color="#77ff88"/><stop offset="0.4375" stop-color="#80ff7f"/><stop offset="0.5" stop-color="#89ff76"/><stop offset="0.5625" stop-color="#96ff69"/><stop offset="0.625" stop-color="#abff54"/><stop offset="0.6875" stop-color="#c5ff3a"/><stop offset="0.75" stop-color="#ebff14"/><stop offset="0.8125" stop-color="#ffe900"/><stop offset="0.875" stop-color="#ffbb00"/><stop offset="0.9375" stop-color="#ff8700"/><stop offset="1" stop-color="#ff5000"/></linearGradient>
<linearGradient id="r50"><stop offset="0" stop-color="#4effb1"/><stop offset="0.0625" stop-color="#51ffae"/><stop offset="0.125" stop-color="#55ffaa"/><stop offset="0.1875" stop-color="#5affa5"/><stop offset="0.25" stop-color="#61ff9e"/><stop offset="0.3125" stop-color="#68ff97"/><stop offset="0.375" stop-color="#71ff8e"/><stop offset="0.4375" stop-color="#7aff85"/><stop offset="0.5" stop-color="#83ff7c"/><stop offset="0.5625" stop-color="#90ff6f"/><stop offset="0.625" stop-color="#a4ff5b"/><stop offset="0.6875" stop-color="#bfff40"/><stop offset="0.75" stop-color="#e5ff1a"/><stop offset="0.8125" stop-color="#ffed00"/><stop offset="0.875" stop-color="#ffbf00"/><stop offset="0.9375" stop-color="#ff8a00"/><stop offset="1" stop-color="#ff5300"/></linearGradient>
<linearGradient id="r51"><stop offset="0" stop-color="#49ffb6"/><stop offset="0.0625" stop-color="#4cffb3"/><stop offset="0.125" stop-color="#50ffaf"/><stop offset="0.1875" stop-color="#55ffaa"/><stop offset="0.25" stop-color="#5affa5"/><stop offset="0.3125" stop-color="#61ff9e"/><stop offset="0.375" stop-color="#6aff95"/><stop offset="0.4375" stop-color="#73ff8c"/><stop offset="0.5" stop-color="#7cff83"/><stop offset="0.5625" stop-color="#89ff76"/><stop offset="0.625" stop-color="#9dff62"/><stop offset="0.6875" stop-color="#baff45"/><stop offset="0.75" stop-color="#dfff20"/><stop offset="0.8125" stop-color="#fff100"/><stop offset="0.875" stop-color="#ffc300"/><stop offset="0.9375" stop-color="#ff8e00"/><stop offset="1" stop-color="#ff5500"/></linearGradient>
<linearGradient id="r52"><stop offset="0" stop-color="#43ffbc"/><stop offset="0.0625" stop-color="#46ffb9"/><stop offset="0.125" stop-color="#4affb5"/><stop offset="0.1875" stop-color="#4fffb0"/><stop offset="0.25" stop-color="#54ffab"/><stop offset="0.3125" stop-color="#5bffa4"/><stop offset="0.375" stop-color="#63ff9c"/><stop offset="0.4375" stop-color="#6cff93"/><stop offset="0.5" stop-color="#75ff8a"/><stop offset="0.5625" stop-color="#82ff7d"/><stop offset="0.625" stop-color="#97ff68"/><stop offset="0.6875" stop-color="#b4ff4b"/><stop offset="0.75" stop-color="#daff25"/><stop offset="0.8125" stop-color="#fff500"/><stop offset="0.875" stop-color="#ffc700"/><stop offset="0.9375" stop-color="#ff9200"/><stop offset="1" stop-color="#ff5700"/></linearGradient>
<linearGradient id="r53"><stop offset="0" stop-color="#3effc1"/><stop offset="0.0625" stop-color="#41ffbe"/><stop offset="0.125" stop-color="#45ffba"/><stop offset="0.1875" stop-color="#49ffb6"/><stop offset="0.25" stop-color="#4effb1"/><stop offset="0.3125" stop-color="#54ffab"/><stop offset="0.375" stop-color="#5dffa2"/><stop offset="0.4375" stop-color="#65ff9a"/><stop offset="0.5" stop-color="#6dff92"/><stop offset="0.5625" stop-color="#7bff84"/><stop offset="0.625" stop-color="#8fff70"/><stop offset="0.6875" stop-color="#aeff51"/><stop offset="0.75" stop-color="#d4ff2b"/><stop offset="0.8125" stop-color="#fff900"/><stop offset="0.875" stop-color="#ffcb00"/><stop offset="0.9375" stop-color="#ff9600"/><stop offset="1" stop-color="#ff5900"/></linearGradient>
<linearGradient id="r54"><stop offset="0" stop-color="#38ffc7"/><stop offset="0.0625" stop-color="#3cffc3"/><stop offset="0.125" stop-color="#3fffc0"/><stop offset="0.1875" stop-color="#43ffbc"/><stop offset="0.25" stop-color="#48ffb7"/><stop offset="0.3125" stop-color="#4dffb2"/><stop offset="0.375" stop-color="#56ffa9"/><stop offset="0.4375" stop-color="#5effa1"/><stop offset="0.5" stop-color="#66ff99"/><stop offset="0.5625" stop-color="#73ff8c"/><stop offset="0.625" stop-color="#88ff77"/><stop offset="0.6875" stop-color="#a8ff57"/><stop offset="0.75" stop-color="#cfff30"/><stop offset="0.8125" stop-color="#fffe00"/><stop offset="0.875" stop-color="#ffce00"/><stop offset="0.9375" stop-color="#ff9a00"/><stop offset="1" stop-color="#ff5c00"/></linearGradient>
<linearGradient id="r55"><stop offset="0" stop-color="#33ffcc"/><stop offset="0.0625" stop-color="#36ffc9"/><stop offset="0.125" stop-color="#3affc5"/><stop offset="0.1875" stop-color="#3dffc2"/><stop offset="0.25" stop-color="#41ffbe"/><stop offset="0.3125" stop-color="#47ffb8"/><stop offset="0.375" stop-color="#4fffb0"/><stop offset="0.4375" stop-color="#57ffa8"/><stop offset="0.5" stop-color="#5fffa0"/><stop offset="0.5625" stop-color="#6cff93"/><stop offset="0.625" stop-color="#81ff7e"/><stop offset="0.6875" stop-color="#a2ff5d"/><stop offset="0.75" stop-color="#c9ff36"/><stop offset="0.8125" stop-color="#fcff03"/><stop offset="0.875" stop-color="#ffd100"/><stop offset="0.9375" stop-color="#ff9d00"/><stop offset="1" stop-color="#ff5e00"/></linearGradient>
<linearGradient id="r56"><stop offset="0" stop-color="#2dffd2"/><stop offset="0.0625" stop-color="#31ffce"/><stop offset="0.125" stop-color="#34ffcb"/><stop offset="0.1875" stop-color="#37ffc8"/><stop offset="0.25" stop-color="#3bffc4"/><stop offset="0.3125" stop-color="#40ffbf"/><stop offset="0.375" stop-color="#48ffb7"/><stop offset="0.4375" stop-color="#50ffaf"/><stop offset="0.5" stop-color="#58ffa7"/><stop offset="0.5625" stop-color="#65ff9a"/><stop offset="0.625" stop-color="#79ff86"/><stop offset="0.6875" stop-color="#9cff63"/><stop offset="0.75" stop-color="#c4ff3b"/><stop offset="0.8125" stop-color="#f7ff08"/><stop offset="0.875" stop-color="#ffd500"/><stop offset="0.9375" stop-color="#ffa100"/><stop offset="1" stop-color="#ff6000"/></linearGradient>
<linearGradient id="r57"><stop offset="0" stop-color="#28ffd7"/><stop offset="0.0625" stop-color="#2bffd4"/><stop offset="0.125" stop-color="#2fffd0"/><stop offset="0.1875" stop-color="#32ffcd"/><stop offset="0.25" stop-color="#35ffca"/><stop offset="0.3125" stop-color="#3affc5"/><stop offset="0.375" stop-color="#41ffbe"/><stop offset="0.4375" stop-color="#49ffb6"/><stop offset="0.5" stop-color="#51ffae"/><stop offset="0.5625" stop-color="#5effa1"/><stop offset="0.625" stop-color="#71ff8e"/><stop offset="0.6875" stop-color="#95ff6a"/><stop offset="0.75" stop-color="#bfff40"/><stop offset="0.8125" stop-color="#f3ff0c"/><stop offset="0.875" stop-color="#ffd800"/><stop offset="0.9375" stop-color="#ffa400"/><stop offset="1" stop-color="#ff6200"/></linearGradient>
<linearGradient id="r58"><stop offset="0" stop-color="#22ffdd"/><stop offset="0.0625" stop-color="#26ffd9"/><stop offset="0.125" stop-color="#29ffd6"/><stop offset="0.1875" stop-color="#2cffd3"/><stop offset="0.25" stop-color="#30ffcf"/><stop offset="0.3125" stop-color="#34ffcb"/><stop offset="0.375" stop-color="#3affc5"/><stop offset="0.4375" stop-color="#41ffbe"/><stop offset="0.5" stop-color="#4affb5"/><stop offset="0.5625" stop-color="#56ffa9"/><stop offset="0.625" stop-color="#69ff96"/><stop offset="0.6875" stop-color="#8eff71"/><stop offset="0.75" stop-color="#baff45"/><stop offset="0.8125" stop-color="#eeff11"/><stop offset="0.875" stop-color="#ffda00"/><stop offset="0.9375" stop-color="#ffa600"/><stop offset="1" stop-color="#ff6400"/></linearGradient>
<linearGradient id="r59"><stop offset="0" stop-color="#1cffe3"/><stop offset="0.0625" stop-color="#20ffdf"/><stop offset="0.125" stop-color="#23ffdc"/><stop offset="0.1875" stop-color="#27ffd8"/><stop offset="0.25" stop-color="#2affd5"/><stop offset="0.3125" stop-color="#2effd1"/><stop offset="0.375" stop-color="#33ffcc"/><stop offset="0.4375" stop-color="#3affc5"/><stop offset="0.5" stop-color="#42ffbd"/><stop offset="0.5625" stop-color="#4fffb0"/><stop offset="0.625" stop-color="#62ff9d"/><stop offset="0.6875" stop-color="#87ff78"/><stop offset="0.75" stop-color="#b5ff4a"/><stop offset="0.8125" stop-color="#eaff15"/><stop offset="0.875" stop-color="#ffdd00"/><stop offset="0.9375" stop-color="#ffa900"/><stop offset="1" stop-color="#ff6500"/></linearGradient>
<linearGradient id="r60"><stop offset="0" stop-color="#16ffe9"/><stop offset="0.0625" stop-color="#1affe5"/><stop offset="0.125" stop-color="#1effe1"/><stop offset="0.1875" stop-color="#21ffde"/><stop offset="0.25" stop-color="#24ffdb"/><stop offset="0.3125" stop-color="#28ffd7"/><stop offset="0.375" stop-color="#2dffd2"/><stop offset="0.4375" stop-color="#33ffcc"/><stop offset="0.5" stop-color="#3bffc4"/><stop offset="0.5625" stop-color="#47ffb8"/><stop offset="0.625" stop-color="#5affa5"/><stop offset="0.6875" stop-color="#7fff80"/><stop offset="0.75" stop-color="#b0ff4f"/><stop offset="0.8125" stop-color="#e6ff19"/><stop offset="0.875" stop-color="#ffe000"/><stop offset="0.9375" stop-color="#ffac00"/><stop offset="1" stop-color="#ff6600"/></linearGradient>
<linearGradient id="r61"><stop offset="0" stop-color="#0ffff0"/><stop offset="0.0625" stop-color="#13ffec"/><stop offset="0.125" stop-color="#17ffe8"/><stop offset="0.1875" stop-color="#1bffe4"/><stop offset="0.25" stop-color="#1effe1"/><stop offset="0.3125" stop-color="#22ffdd"/><stop offset="0.375" stop-color="#26ffd9"/><stop offset="0.4375" stop-color="#2cffd3"/><stop offset="0.5" stop-color="#33ffcc"/><stop offset="0.5625" stop-color="#40ffbf"/><stop offset="0.625" stop-color="#53ffac"/><stop offset="0.6875" stop-color="#77ff88"/><stop offset="0.75" stop-color="#abff54"/><stop offset="0.8125" stop-color="#e1ff1e"/><stop offset="0.875" stop-color="#ffe300"/><stop offset="0.9375" stop-color="#ffae00"/><stop offset="1" stop-color="#ff6600"/></linearGradient>
<linearGradient id="r62"><stop offset="0" stop-color="#08fff7"/><stop offset="0.0625" stop-color="#0dfff2"/><stop offset="0.125" stop-color="#11ffee"/><stop offset="0.1875" stop-color="#14ffeb"/><stop offset="0.25" stop-color="#18ffe7"/><stop offset="0.3125" stop-color="#1cffe3"/><stop offset="0.375" stop-color="#20ffdf"/><stop offset="0.4375" stop-color="#25ffda"/><stop offset="0.5" stop-color="#2bffd4"/><stop offset="0.5625" stop-color="#37ffc8"/><stop offset="0.625" stop-color="#4cffb3"/><stop offset="0.6875" stop-color="#70ff8f"/><stop offset="0.75" stop-color="#a5ff5a"/><stop offset="0.8125" stop-color="#ddff22"/><stop offset="0.875" stop-color="#ffe600"/><stop offset="0.9375" stop-color="#ffb100"/><stop offset="1" stop-color="#ff6600"/></linearGradient>
<linearGradient id="r63"><stop offset="0" stop-color="#01fffe"/><stop offset="0.0625" stop-color="#05fffa"/><stop offset="0.125" stop-color="#09fff6"/><stop offset="0.1875" stop-color="#0dfff2"/><stop offset="0.25" stop-color="#11ffee"/><stop offset="0.3125" stop-color="#15ffea"/><stop offset="0.375" stop-color="#19ffe6"/><stop offset="0.4375" stop-color="#1dffe2"/><stop offset="0.5" stop-color="#23ffdc"/><stop offset="0.5625" stop-color="#2fffd0"/><stop offset="0.625" stop-color="#44ffbb"/><stop offset="0.6875" stop-color="#68ff97"/><stop offset="0.75" stop-color="#a0ff5f"/><stop offset="0.8125" stop-color="#d9ff26"/><stop offset="0.875" stop-color="#ffea00"/><stop offset="0.9375" stop-color="#ffb300"/><stop offset="1" stop-color="#ff6600"/></linearGradient>
<linearGradient id="r64"><stop offset="0" stop-color="#00f8ff"/><stop offset="0.0625" stop-color="#00fcff"/><stop offset="0.125" stop-color="#01fffe"/><stop offset="0.1875" stop-color="#05fffa"/><stop offset="0.25" stop-color="#0afff5"/><stop offset="0.3125" stop-color="#0efff1"/><stop offset="0.375" stop-color="#12ffed"/><stop offset="0.4375" stop-color="#16ffe9"/><stop offset="0.5" stop-color="#1affe5"/><stop offset="0.5625" stop-color="#26ffd9"/><stop offset="0.625" stop-color="#3bffc4"/><stop offset="0.6875" stop-color="#60ff9f"/><stop offset="0.75" stop-color="#9aff65"/><stop offset="0.8125" stop-color="#d5ff2a"/><stop offset="0.875" stop-color="#ffed00"/><stop offset="0.9375" stop-color="#ffb500"/><stop offset="1" stop-color="#ff6600"/></linearGradient>
<linearGradient id="r65"><stop offset="0" stop-color="#00f0ff"/><stop offset="0.0625" stop-color="#00f4ff"/><stop offset="0.125" stop-color="#00f7ff"/><stop offset="0.1875" stop-color="#00fcff"/><stop offset="0.25" stop-color="#01fffe"/><stop offset="0.3125" stop-color="#06fff9"/><stop offset="0.375" stop-color="#0afff5"/><stop offset="0.4375" stop-color="#0efff1"/><stop offset="0.5" stop-color="#12ffed"/><stop offset="0.5625" stop-color="#1cffe3"/><stop offset="0.625" stop-color="#32ffcd"/><stop offset="0.6875" stop-color="#59ffa6"/><stop offset="0.75" stop-color="#94ff6b"/><stop offset="0.8125" stop-color="#d1ff2e"/><stop offset="0.875" stop-color="#fff000"/><stop offset="0.9375" stop-color="#ffb700"/><stop offset="1" stop-color="#ff6600"/></linearGradient>
<linearGradient id="r66"><stop offset="0" stop-color="#00e7ff"/><stop offset="0.0625" stop-color="#00eaff"/><stop offset="0.125" stop-color="#00eeff"/><stop offset="0.1875" stop-color="#00f2ff"/><stop offset="0.25" stop-color="#00f7ff"/><stop offset="0.3125" stop-color="#00fcff"/><stop offset="0.375" stop-color="#02fffd"/><stop offset="0.4375" stop-color="#06fff9"/><stop offset="0.5" stop-color="#0afff5"/><stop offset="0.5625" stop-color="#12ffed"/><stop offset="0.625" stop-color="#29ffd6"/><stop offset="0.6875" stop-color="#51ffae"/><stop offset="0.75" stop-color="#8cff73"/><stop offset="0.8125" stop-color="#cdff32"/><stop offset="0.875" stop-color="#fff400"/><stop offset="0.9375" stop-color="#ffb900"/><stop offset="1" stop-color="#ff6600"/></linearGradient>
<linearGradient id="r67"><stop offset="0" stop-color="#00deff"/><stop offset="0.0625" stop-color="#00e1ff"/><stop offset="0.125" stop-color="#00e4ff"/><stop offset="0.1875" stop-color="#00e8ff"/><stop offset="0.25" stop-color="#00edff"/><stop offset="0.3125" stop-color="#00f2ff"/><stop offset="0.375" stop-color="#00f8ff"/><stop offset="0.4375" stop-color="#00fcff"/><stop offset="0.5" stop-color="#01fffe"/><stop offset="0.5625" stop-color="#09fff6"/><stop offset="0.625" stop-color="#1effe1"/><stop offset="0.6875" stop-color="#48ffb7"/><stop offset="0.75" stop-color="#83ff7c"/><stop offset="0.8125" stop-color="#c8ff37"/><stop offset="0.875" stop-color="#fff700"/><stop offset="0.9375" stop-color="#ffbb00"/><stop offset="1" stop-color="#ff6700"/></linearGradient>
<linearGradient id="r68"><stop offset="0" stop-color="#00d5ff"/><stop offset="0.0625" stop-color="#00d8ff"/><stop offset="0.125" stop-color="#00daff"/><stop offset="0.1875" stop-color="#00ddff"/><stop offset="0.25" stop-color="#00e2ff"/><stop offset="0.3125" stop-color="#00e8ff"/><stop offset="0.375" stop-color="#00eeff"/><stop offset="0.4375" stop-color="#00f4ff"/><stop offset="0.5" stop-color="#00f8ff"/><stop offset="0.5625" stop-color="#00ffff"/><stop offset="0.625" stop-color="#14ffeb"/><stop offset="0.6875" stop-color="#3fffc0"/><stop offset="0.75" stop-color="#78ff87"/><stop offset="0.8125" stop-color="#c3ff3c"/><stop offset="0.875" stop-color="#fffb00"/><stop offset="0.9375" stop-color="#ffbc00"/><stop offset="1" stop-color="#ff6a00"/></linearGradient>
<linearGradient id="r69"><stop offset="0" stop-color="#00ccff"/><stop offset="0.0625" stop-color="#00ceff"/><stop offset="0.125" stop-color="#00d0ff"/><stop offset="0.1875" stop-color="#00d2ff"/><stop offset="0.25" stop-color="#00d8ff"/><stop offset="0.3125" stop-color="#00ddff"/><stop offset="0.375" stop-color="#00e4ff"/><stop offset="0.4375" stop-color="#00ebff"/><stop offset="0.5" stop-color="#00f0ff"/><stop offset="0.5625" stop-color="#00f7ff"/><stop offset="0.625" stop-color="#09fff6"/><stop offset="0.6875" stop-color="#35ffca"/><stop offset="0.75" stop-color="#6dff92"/><stop offset="0.8125" stop-color="#bcff43"/><stop offset="0.875" stop-color="#fffe00"/><stop offset="0.9375" stop-color="#ffbe00"/><stop offset="1" stop-color="#ff6d00"/></linearGradient>
<linearGradient id="r70"><stop offset="0" stop-color="#00c3ff"/><stop offset="0.0625" stop-color="#00c5ff"/><stop offset="0.125" stop-color="#00c6ff"/><stop offset="0.1875" stop-color="#00c8ff"/><stop offset="0.25" stop-color="#00cdff"/><stop offset="0.3125" stop-color="#00d3ff"/><stop offset="0.375" stop-color="#00daff"/><stop offset="0.4375" stop-color="#00e2ff"/><stop offset="0.5" stop-color="#00e9ff"/><stop offset="0.5625" stop-color="#00f0ff"/><stop offset="0.625" stop-color="#00ffff"/><stop offset="0.6875" stop-color="#2bffd4"/><stop offset="0.75" stop-color="#61ff9e"/><stop offset="0.8125" stop-color="#b4ff4b"/><stop offset="0.875" stop-color="#fdff02"/><stop offset="0.9375" stop-color="#ffc000"/><stop offset="1" stop-color="#ff7000"/></linearGradient>
<linearGradient id="r71"><stop offset="0" stop-color="#00b9ff"/><stop offset="0.0625" stop-color="#00bbff"/><stop offset="0.125" stop-color="#00bcff"/><stop offset="0.1875" stop-color="#00bdff"/><stop offset="0.25" stop-color="#00c3ff"/><stop offset="0.3125" stop-color="#00c8ff"/><stop offset="0.375" stop-color="#00d0ff"/><stop offset="0.4375" stop-color="#00d9ff"/><stop offset="0.5" stop-color="#00e2ff"/><stop offset="0.5625" stop-color="#00e9ff"/><stop offset="0.625" stop-color="#00f6ff"/><stop offset="0.6875" stop-color="#1fffe0"/><stop offset="0.75" stop-color="#57ffa8"/><stop offset="0.8125" stop-color="#abff54"/><stop offset="0.875" stop-color="#faff05"/><stop offset="0.9375" stop-color="#ffc100"/><stop offset="1" stop-color="#ff7300"/></linearGradient>
<linearGradient id="r72"><stop offset="0" stop-color="#00afff"/><stop offset="0.0625" stop-color="#00b1ff"/><stop offset="0.125" stop-color="#00b2ff"/><stop offset="0.1875" stop-color="#00b3ff"/><stop offset="0.25" stop-color="#00b8ff"/><stop offset="0.3125" stop-color="#00beff"/><stop offset="0.375" stop-color="#00c7ff"/><stop offset="0.4375" stop-color="#00d1ff"/><stop offset="0.5" stop-color="#00daff"/><stop offset="0.5625" stop-color="#00e3ff"/><stop offset="0.625" stop-color="#00efff"/><stop offset="0.6875" stop-color="#14ffeb"/><stop offset="0.75" stop-color="#4effb1"/><stop offset="0.8125" stop-color="#a1ff5e"/><stop offset="0.875" stop-color="#f7ff08"/><stop offset="0.9375" stop-color="#ffc300"/><stop offset="1" stop-color="#ff7500"/></linearGradient>
<linearGradient id="r73"><stop offset="0" stop-color="#00a5ff"/><stop offset="0.0625" stop-color="#00a6ff"/><stop offset="0.125" stop-color="#00a7ff"/><stop offset="0.1875" stop-color="#00a8ff"/><stop offset="0.25" stop-color="#00aeff"/><stop offset="0.3125" stop-color="#00b5ff"/><stop offset="0.375" stop-color="#00beff"/><stop offset="0.4375" stop-color="#00c8ff"/><stop offset="0.5" stop-color="#00d3ff"/><stop offset="0.5625" stop-color="#00deff"/><stop offset="0.625" stop-color="#00e9ff"/><stop offset="0.6875" stop-color="#09fff6"/><stop offset="0.75" stop-color="#46ffb9"/><stop offset="0.8125" stop-color="#97ff68"/><stop offset="0.875" stop-color="#f3ff0c"/><stop offset="0.9375" stop-color="#ffc500"/><stop offset="1" stop-color="#ff7700"/></linearGradient>
<linearGradient id="r74"><stop offset="0" stop-color="#0098ff"/><stop offset="0.0625" stop-color="#009aff"/><stop offset="0.125" stop-color="#009bff"/><stop offset="0.1875" stop-color="#009cff"/><stop offset="0.25" stop-color="#00a3ff"/><stop offset="0.3125" stop-color="#00abff"/><stop offset="0.375" stop-color="#00b5ff"/><stop offset="0.4375" stop-color="#00c0ff"/><stop offset="0.5" stop-color="#00ccff"/><stop offset="0.5625" stop-color="#00d8ff"/><stop offset="0.625" stop-color="#00e3ff"/><stop offset="0.6875" stop-color="#00feff"/><stop offset="0.75" stop-color="#3fffc0"/><stop offset="0.8125" stop-color="#8dff72"/><stop offset="0.875" stop-color="#efff10"/><stop offset="0.9375" stop-color="#ffc600"/><stop offset="1" stop-color="#ff7800"/></linearGradient>
<linearGradient id="r75"><stop offset="0" stop-color="#008aff"/><stop offset="0.0625" stop-color="#008cff"/><stop offset="0.125" stop-color="#008dff"/><stop offset="0.1875" stop-color="#0090ff"/><stop offset="0.25" stop-color="#0098ff"/><stop offset="0.3125" stop-color="#00a0ff"/><stop offset="0.375" stop-color="#00acff"/><stop offset="0.4375" stop-color="#00b8ff"/><stop offset="0.5" stop-color="#00c5ff"/><stop offset="0.5625" stop-color="#00d3ff"/><stop offset="0.625" stop-color="#00dfff"/><stop offset="0.6875" stop-color="#00f7ff"/><stop offset="0.75" stop-color="#37ffc8"/><stop offset="0.8125" stop-color="#82ff7d"/><stop offset="0.875" stop-color="#ebff14"/><stop offset="0.9375" stop-color="#ffc700"/><stop offset="1" stop-color="#ff7900"/></linearGradient>
<linearGradient id="r76"><stop offset="0" stop-color="#007bff"/><stop offset="0.0625" stop-color="#007dff"/><stop offset="0.125" stop-color="#007fff"/><stop offset="0.1875" stop-color="#0083ff"/><stop offset="0.25" stop-color="#008bff"/><stop offset="0.3125" stop-color="#0095ff"/><stop offset="0.375" stop-color="#00a2ff"/><stop offset="0.4375" stop-color="#00b0ff"/><stop offset="0.5" stop-color="#00beff"/><stop offset="0.5625" stop-color="#00cdff"/><stop offset="0.625" stop-color="#00daff"/><stop offset="0.6875" stop-color="#00f0ff"/><stop offset="0.75" stop-color="#2fffd0"/><stop offset="0.8125" stop-color="#77ff88"/><stop offset="0.875" stop-color="#e7ff18"/><stop offset="0.9375" stop-color="#ffc800"/><stop offset="1" stop-color="#ff7a00"/></linearGradient>
<linearGradient id="r77"><stop offset="0" stop-color="#006cff"/><stop offset="0.0625" stop-color="#006eff"/><stop offset="0.125" stop-color="#006fff"/><stop offset="0.1875" stop-color="#0075ff"/><stop offset="0.25" stop-color="#007eff"/><stop offset="0.3125" stop-color="#008aff"/><stop offset="0.375" stop-color="#0098ff"/><stop offset="0.4375" stop-color="#00a6ff"/><stop offset="0.5" stop-color="#00b6ff"/><stop offset="0.5625" stop-color="#00c6ff"/><stop offset="0.625" stop-color="#00d5ff"/><stop offset="0.6875" stop-color="#00ebff"/><stop offset="0.75" stop-color="#26ffd9"/><stop offset="0.8125" stop-color="#6eff91"/><stop offset="0.875" stop-color="#e2ff1d"/><stop offset="0.9375" stop-color="#ffc900"/><stop offset="1" stop-color="#ff7a00"/></linearGradient>
<linearGradient id="r78"><stop offset="0" stop-color="#005cff"/><stop offset="0.0625" stop-color="#005eff"/><stop offset="0.125" stop-color="#0060ff"/><stop offset="0.1875" stop-color="#0067ff"/><stop offset="0.25" stop-color="#0071ff"/><stop offset="0.3125" stop-color="#007eff"/><stop offset="0.375" stop-color="#008dff"/><stop offset="0.4375" stop-color="#009dff"/><stop offset="0.5" stop-color="#00adff"/><stop offset="0.5625" stop-color="#00beff"/><stop offset="0.625" stop-color="#00d0ff"/><stop offset="0.6875" stop-color="#00e5ff"/><stop offset="0.75" stop-color="#1dffe2"/><stop offset="0.8125" stop-color="#66ff99"/><stop offset="0.875" stop-color="#deff21"/><stop offset="0.9375" stop-color="#ffc900"/><stop offset="1" stop-color="#ff7900"/></linearGradient>
<linearGradient id="r79"><stop offset="0" stop-color="#004cff"/><stop offset="0.0625" stop-color="#004fff"/><stop offset="0.125" stop-color="#0052ff"/><stop offset="0.1875" stop-color="#005aff"/><stop offset="0.25" stop-color="#0063ff"/><stop offset="0.3125" stop-color="#0071ff"/><stop offset="0.375" stop-color="#0081ff"/><stop offset="0.4375" stop-color="#0091ff"/><stop offset="0.5" stop-color="#00a3ff"/><stop offset="0.5625" stop-color="#00b5ff"/><stop offset="0.625" stop-color="#00caff"/><stop offset="0.6875" stop-color="#00e0ff"/><stop offset="0.75" stop-color="#14ffeb"/><stop offset="0.8125" stop-color="#5fffa0"/><stop offset="0.875" stop-color="#daff25"/><stop offset="0.9375" stop-color="#ffca00"/><stop offset="1" stop-color="#ff7700"/></linearGradient>
<linearGradient id="r80"><stop offset="0" stop-color="#003dff"/><stop offset="0.0625" stop-color="#003fff"/><stop offset="0.125" stop-color="#0044ff"/><stop offset="0.1875" stop-color="#004dff"/><stop offset="0.25" stop-color="#0056ff"/><stop offset="0.3125" stop-color="#0065ff"/><stop offset="0.375" stop-color="#0075ff"/><stop offset="0.4375" stop-color="#0085ff"/><stop offset="0.5" stop-color="#0098ff"/><stop offset="0.5625" stop-color="#00acff"/><stop offset="0.625" stop-color="#00c2ff"/><stop offset="0.6875" stop-color="#00dcff"/><stop offset="0.75" stop-color="#0cfff3"/><stop offset="0.8125" stop-color="#59ffa6"/><stop offset="0.875" stop-color="#d6ff29"/><stop offset="0.9375" stop-color="#ffcb00"/><stop offset="1" stop-color="#ff7500"/></linearGradient>
<linearGradient id="r81"><stop offset="0" stop-color="#002dff"/><stop offset="0.0625" stop-color="#0031ff"/><stop offset="0.125" stop-color="#0036ff"/><stop offset="0.1875" stop-color="#0040ff"/><stop offset="0.25" stop-color="#0049ff"/><stop offset="0.3125" stop-color="#0058ff"/><stop offset="0.375" stop-color="#0068ff"/><stop offset="0.4375" stop-color="#0079ff"/><stop offset="0.5" stop-color="#008cff"/><stop offset="0.5625" stop-color="#00a2ff"/><stop offset="0.625" stop-color="#00b8ff"/><stop offset="0.6875" stop-color="#00d7ff"/><stop offset="0.75" stop-color="#05fffa"/><stop offset="0.8125" stop-color="#54ffab"/><stop offset="0.875" stop-color="#d2ff2d"/><stop offset="0.9375" stop-color="#ffcb00"/><stop offset="1" stop-color="#ff7400"/></linearGradient>
<linearGradient id="r82"><stop offset="0" stop-color="#001eff"/><stop offset="0.0625" stop-color="#0022ff"/><stop offset="0.125" stop-color="#0028ff"/><stop offset="0.1875" stop-color="#0033ff"/><stop offset="0.25" stop-color="#003dff"/><stop offset="0.3125" stop-color="#004bff"/><stop offset="0.375" stop-color="#005cff"/><stop offset="0.4375" stop-color="#006dff"/><stop offset="0.5" stop-color="#0080ff"/><stop offset="0.5625" stop-color="#0098ff"/><stop offset="0.625" stop-color="#00afff"/><stop offset="0.6875" stop-color="#00d2ff"/><stop offset="0.75" stop-color="#00fdff"/><stop offset="0.8125" stop-color="#4fffb0"/><stop offset="0.875" stop-color="#cfff30"/><stop offset="0.9375" stop-color="#ffcc00"/><stop offset="1" stop-color="#ff7600"/></linearGradient>
<linearGradient id="r83"><stop offset="0" stop-color="#000fff"/><stop offset="0.0625" stop-color="#0013ff"/><stop offset="0.125" stop-color="#001aff"/><stop offset="0.1875" stop-color="#0025ff"/><stop offset="0.25" stop-color="#0032ff"/><stop offset="0.3125" stop-color="#003fff"/><stop offset="0.375" stop-color="#0050ff"/><stop offset="0.4375" stop-color="#0063ff"/><stop offset="0.5" stop-color="#0075ff"/><stop offset="0.5625" stop-color="#008eff"/><stop offset="0.625" stop-color="#00a5ff"/><stop offset="0.6875" stop-color="#00ccff"/><stop offset="0.75" stop-color="#00f7ff"/><stop offset="0.8125" stop-color="#4affb5"/><stop offset="0.875" stop-color="#ccff33"/><stop offset="0.9375" stop-color="#ffcc00"/><stop offset="1" stop-color="#ff7a00"/></linearGradient>
<linearGradient id="r84"><stop offset="0" stop-color="#0000ff"/><stop offset="0.0625" stop-color="#0005ff"/><stop offset="0.125" stop-color="#000dff"/><stop offset="0.1875" stop-color="#0018ff"/><stop offset="0.25" stop-color="#0027ff"/><stop offset="0.3125" stop-color="#0035ff"/><stop offset="0.375" stop-color="#0046ff"/><stop offset="0.4375" stop-color="#005aff"/><stop offset="0.5" stop-color="#006bff"/><stop offset="0.5625" stop-color="#0086ff"/><stop offset="0.625" stop-color="#009cff"/><stop offset="0.6875" stop-color="#00c6ff"/><stop offset="0.75" stop-color="#00f1ff"/><stop offset="0.8125" stop-color="#46ffb9"/><stop offset="0.875" stop-color="#caff35"/><stop offset="0.9375" stop-color="#ffcb00"/><stop offset="1" stop-color="#ff7c00"/></linearGradient>
<linearGradient id="r85"><stop offset="0" stop-color="#0000f0"/><stop offset="0.0625" stop-color="#0000f6"/><stop offset="0.125" stop-color="#0001ff"/><stop offset="0.1875" stop-color="#000dff"/><stop offset="0.25" stop-color="#001eff"/><stop offset="0.3125" stop-color="#002cff"/><stop offset="0.375" stop-color="#003dff"/><stop offset="0.4375" stop-color="#0054ff"/><stop offset="0.5" stop-color="#0064ff"/><stop offset="0.5625" stop-color="#007fff"/><stop offset="0.625" stop-color="#0094ff"/><stop offset="0.6875" stop-color="#00beff"/><stop offset="0.75" stop-color="#00ecff"/><stop offset="0.8125" stop-color="#43ffbc"/><stop offset="0.875" stop-color="#c8ff37"/><stop offset="0.9375" stop-color="#ffcb00"/><stop offset="1" stop-color="#ff7e00"/></linearGradient>
<linearGradient id="r86"><stop offset="0" stop-color="#0000e2"/><stop offset="0.0625" stop-color="#0000e9"/><stop offset="0.125" stop-color="#0000f5"/><stop offset="0.1875" stop-color="#0003ff"/><stop offset="0.25" stop-color="#0016ff"/><stop offset="0.3125" stop-color="#0025ff"/><stop offset="0.375" stop-color="#0036ff"/><stop offset="0.4375" stop-color="#0050ff"/><stop offset="0.5" stop-color="#0060ff"/><stop offset="0.5625" stop-color="#007bff"/><stop offset="0.625" stop-color="#008fff"/><stop offset="0.6875" stop-color="#00b8ff"/><stop offset="0.75" stop-color="#00e8ff"/><stop offset="0.8125" stop-color="#40ffbf"/><stop offset="0.875" stop-color="#c7ff38"/><stop offset="0.9375" stop-color="#ffca00"/><stop offset="1" stop-color="#ff7f00"/></linearGradient>
<linearGradient id="r87"><stop offset="0" stop-color="#0000d5"/><stop offset="0.0625" stop-color="#0000dd"/><stop offset="0.125" stop-color="#0000ec"/><stop offset="0.1875" stop-color="#0000fa"/><stop offset="0.25" stop-color="#0011ff"/><stop offset="0.3125" stop-color="#0021ff"/><stop offset="0.375" stop-color="#0033ff"/><stop offset="0.4375" stop-color="#0050ff"/><stop offset="0.5" stop-color="#005fff"/><stop offset="0.5625" stop-color="#007aff"/><stop offset="0.625" stop-color="#008dff"/><stop offset="0.6875" stop-color="#00b3ff"/><stop offset="0.75" stop-color="#00e5ff"/><stop offset="0.8125" stop-color="#3cffc3"/><stop offset="0.875" stop-color="#c7ff38"/><stop offset="0.9375" stop-color="#ffc900"/><stop offset="1" stop-color="#ff8000"/></linearGradient>
<linearGradient id="r88"><stop offset="0" stop-color="#0000c8"/><stop offset="0.0625" stop-color="#0000d1"/><stop offset="0.125" stop-color="#0000e4"/><stop offset="0.1875" stop-color="#0000f4"/><stop offset="0.25" stop-color="#000eff"/><stop offset="0.3125" stop-color="#0020ff"/><stop offset="0.375" stop-color="#0033ff"/><stop offset="0.4375" stop-color="#0054ff"/><stop offset="0.5" stop-color="#0063ff"/><stop offset="0.5625" stop-color="#007bff"/><stop offset="0.625" stop-color="#008dff"/><stop offset="0.6875" stop-color="#00b0ff"/><stop offset="0.75" stop-color="#00e2ff"/><stop offset="0.8125" stop-color="#39ffc6"/><stop offset="0.875" stop-color="#c8ff37"/><stop offset="0.9375" stop-color="#ffc800"/><stop offset="1" stop-color="#ff8000"/></linearGradient>
<linearGradient id="r89"><stop offset="0" stop-color="#0000bb"/><stop offset="0.0625" stop-color="#0000c8"/><stop offset="0.125" stop-color="#0000de"/><stop offset="0.1875" stop-color="#0000f1"/><stop offset="0.25" stop-color="#000dff"/><stop offset="0.3125" stop-color="#0021ff"/><stop offset="0.375" stop-color="#003aff"/><stop offset="0.4375" stop-color="#005bff"/><stop offset="0.5" stop-color="#006aff"/><stop offset="0.5625" stop-color="#0080ff"/><stop offset="0.625" stop-color="#008fff"/><stop offset="0.6875" stop-color="#00afff"/><stop offset="0.75" stop-color="#00e0ff"/><stop offset="0.8125" stop-color="#38ffc7"/><stop offset="0.875" stop-color="#caff35"/><stop offset="0.9375" stop-color="#ffc600"/><stop offset="1" stop-color="#ff8000"/></linearGradient>
<linearGradient id="r90"><stop offset="0" stop-color="#0000b0"/><stop offset="0.0625" stop-color="#0000bf"/><stop offset="0.125" stop-color="#0000da"/><stop offset="0.1875" stop-color="#0000f0"/><stop offset="0.25" stop-color="#000fff"/><stop offset="0.3125" stop-color="#0026ff"/><stop offset="0.375" stop-color="#0046ff"/><stop offset="0.4375" stop-color="#0065ff"/><stop offset="0.5" stop-color="#0075ff"/><stop offset="0.5625" stop-color="#0087ff"/><stop offset="0.625" stop-color="#0093ff"/><stop offset="0.6875" stop-color="#00b1ff"/><stop offset="0.75" stop-color="#00dfff"/><stop offset="0.8125" stop-color="#37ffc8"/><stop offset="0.875" stop-color="#cbff34"/><stop offset="0.9375" stop-color="#ffc500"/><stop offset="1" stop-color="#ff8000"/></linearGradient>
<linearGradient id="r91"><stop offset="0" stop-color="#0000a6"/><stop offset="0.0625" stop-color="#0000b8"/><stop offset="0.125" stop-color="#0000d6"/><stop offset="0.1875" stop-color="#0000f1"/><stop offset="0.25" stop-color="#0014ff"/><stop offset="0.3125" stop-color="#002fff"/><stop offset="0.375" stop-color="#0055ff"/><stop offset="0.4375" stop-color="#0073ff"/><stop offset="0.5" stop-color="#0082ff"/><stop offset="0.5625" stop-color="#008fff"/><stop offset="0.625" stop-color="#0098ff"/><stop offset="0.6875" stop-color="#00b4ff"/><stop offset="0.75" stop-color="#00deff"/><stop offset="0.8125" stop-color="#37ffc8"/><stop offset="0.875" stop-color="#cdff32"/><stop offset="0.9375" stop-color="#ffc400"/><stop offset="1" stop-color="#ff7f00"/></linearGradient>
<linearGradient id="r92"><stop offset="0" stop-color="#00009d"/><stop offset="0.0625" stop-color="#0000b3"/><stop offset="0.125" stop-color="#0000d4"/><stop offset="0.1875" stop-color="#0000f3"/><stop offset="0.25" stop-color="#001aff"/><stop offset="0.3125" stop-color="#003aff"/><stop offset="0.375" stop-color="#0065ff"/><stop offset="0.4375" stop-color="#0083ff"/><stop offset="0.5" stop-color="#0090ff"/><stop offset="0.5625" stop-color="#0098ff"/><stop offset="0.625" stop-color="#009fff"/><stop offset="0.6875" stop-color="#00b8ff"/><stop offset="0.75" stop-color="#00deff"/><stop offset="0.8125" stop-color="#37ffc8"/><stop offset="0.875" stop-color="#cfff30"/><stop offset="0.9375" stop-color="#ffc300"/><stop offset="1" stop-color="#ff7f00"/></linearGradient>
<linearGradient id="r93"><stop offset="0" stop-color="#000094"/><stop offset="0.0625" stop-color="#0000af"/><stop offset="0.125" stop-color="#0000d3"/><stop offset="0.1875" stop-color="#0000f7"/><stop offset="0.25" stop-color="#0022ff"/><stop offset="0.3125" stop-color="#0047ff"/><stop offset="0.375" stop-color="#0074ff"/><stop offset="0.4375" stop-color="#0092ff"/><stop offset="0.5" stop-color="#009dff"/><stop offset="0.5625" stop-color="#00a1ff"/><stop offset="0.625" stop-color="#00a6ff"/><stop offset="0.6875" stop-color="#00bdff"/><stop offset="0.75" stop-color="#00deff"/><stop offset="0.8125" stop-color="#38ffc7"/><stop offset="0.875" stop-color="#d2ff2d"/><stop offset="0.9375" stop-color="#ffc200"/><stop offset="1" stop-color="#ff7e00"/></linearGradient>
<linearGradient id="r94"><stop offset="0" stop-color="#00008c"/><stop offset="0.0625" stop-color="#0000ab"/><stop offset="0.125" stop-color="#0000d4"/><stop offset="0.1875" stop-color="#0000fb"/><stop offset="0.25" stop-color="#0029ff"/><stop offset="0.3125" stop-color="#0053ff"/><stop offset="0.375" stop-color="#0080ff"/><stop offset="0.4375" stop-color="#00a0ff"/><stop offset="0.5" stop-color="#00a8ff"/><stop offset="0.5625" stop-color="#00aaff"/><stop offset="0.625" stop-color="#00adff"/><stop offset="0.6875" stop-color="#00c2ff"/><stop offset="0.75" stop-color="#00deff"/><stop offset="0.8125" stop-color="#37ffc8"/><stop offset="0.875" stop-color="#d5ff2a"/><stop offset="0.9375" stop-color="#ffc100"/><stop offset="1" stop-color="#ff7e00"/></linearGradient>
<linearGradient id="r95"><stop offset="0" stop-color="#000085"/><stop offset="0.0625" stop-color="#0000a9"/><stop offset="0.125" stop-color="#0000d5"/><stop offset="0.1875" stop-color="#0000ff"/><stop offset="0.25" stop-color="#002fff"/><stop offset="0.3125" stop-color="#005cff"/><stop offset="0.375" stop-color="#008aff"/><stop offset="0.4375" stop-color="#00abff"/><stop offset="0.5" stop-color="#00b3ff"/><stop offset="0.5625" stop-color="#00b2ff"/><stop offset="0.625" stop-color="#00b4ff"/><stop offset="0.6875" stop-color="#00c7ff"/><stop offset="0.75" stop-color="#00e0ff"/><stop offset="0.8125" stop-color="#37ffc8"/><stop offset="0.875" stop-color="#d7ff28"/><stop offset="0.9375" stop-color="#ffc000"/><stop offset="1" stop-color="#ff7d00"/></linearGradient>
<linearGradient id="r96"><stop offset="0" stop-color="#000080"/><stop offset="0.0625" stop-color="#0000a8"/><stop offset="0.125" stop-color="#0000d7"/><stop offset="0.1875" stop-color="#0004ff"/><stop offset="0.25" stop-color="#0034ff"/><stop offset="0.3125" stop-color="#0064ff"/><stop offset="0.375" stop-color="#0092ff"/><stop offset="0.4375" stop-color="#00b4ff"/><stop offset="0.5" stop-color="#00bcff"/><stop offset="0.5625" stop-color="#00baff"/><stop offset="0.625" stop-color="#00bbff"/><stop offset="0.6875" stop-color="#00ccff"/><stop offset="0.75" stop-color="#00e2ff"/><stop offset="0.8125" stop-color="#38ffc7"/><stop offset="0.875" stop-color="#d8ff27"/><stop offset="0.9375" stop-color="#ffc000"/><stop offset="1" stop-color="#ff7d00"/></linearGradient>
<linearGradient id="cb" x1="0" y1="0" x2="0" y2="1"><stop offset="0" stop-color="#800000"/><stop offset="0.03125" stop-color="#9f0000"/><stop offset="0.0625" stop-color="#bf0000"/><stop offset="0.09375" stop-color="#df0000"/><stop offset="0.125" stop-color="#ff0000"/><stop offset="0.1562" stop-color="#ff2000"/><stop offset="0.1875" stop-color="#ff4000"/><stop offset="0.2188" stop-color="#ff6000"/><stop offset="0.25" stop-color="#ff8000"/><stop offset="0.2812" stop-color="#ff9f00"/><stop offset="0.3125" stop-color="#ffbf00"/><stop offset="0.3438" stop-color="#ffdf00"/><stop offset="0.375" stop-color="#ffff00"/><stop offset="0.4062" stop-color="#dfff20"/><stop offset="0.4375" stop-color="#bfff40"/><stop offset="0.4688" stop-color="#9fff60"/><stop offset="0.5" stop-color="#80ff80"/><stop offset="0.5312" stop-color="#60ff9f"/><stop offset="0.5625" stop-color="#40ffbf"/><stop offset="0.5938" stop-color="#20ffdf"/><stop offset="0.625" stop-color="#00ffff"/><stop offset="0.6562" stop-color="#00dfff"/><stop offset="0.6875" stop-color="#00bfff"/><stop offset="0.7188" stop-color="#009fff"/><stop offset="0.75" stop-color="#0080ff"/><stop offset="0.7812" stop-color="#0060ff"/><stop offset="0.8125" stop-color="#0040ff"/><stop offset="0.8438" stop-color="#0020ff"/><stop offset="0.875" stop-color="#0000ff"/><stop offset="0.9062" stop-color="#0000df"/><stop offset="0.9375" stop-color="#0000bf"/><stop offset="0.9688" stop-color="#00009f"/><stop offset="1" stop-color="#000080"/></linearGradient>
</defs>
<g shape-rendering="crispEdges">
<rect x="123" y="162" width="193" height="2.5" fill="url(#r0)"/>
<rect x="123" y="164" width="193" height="2.5" fill="url(#r1)"/>
<rect x="123" y="166" width="193" height="2.5" fill="url(#r2)"/>
<rect x="123" y="168" width="193" height="2.5" fill="url(#r3)"/>
<rect x="123" y="170" width="193" height="2.5" fill="url(#r4)"/>
<rect x="123" y="172" width="193" height="2.5" fill="url(#r5)"/>
<rect x="123" y="174" width="193" height="2.5" fill="url(#r6)"/>
<rect x="123" y="176" width="193" height="2.5" fill="url(#r7)"/>
<rect x="123" y="178" width="193" height="2.5" fill="url(#r8)"/>
<rect x="123" y="180" width="193" height="2.5" fill="url(#r9)"/>
<rect x="123" y="182" width="193" height="2.5" fill="url(#r10)"/>
<rect x="123" y="184" width="193" height="2.5" fill="url(#r11)"/>
<rect x="123" y="186" width="193" height="2.5" fill="url(#r12)"/>
<rect x="123" y="188" width="193" height="2.5" fill="url(#r13)"/>
<rect x="123" y="190" width="193" height="2.5" fill="url(#r14)"/>
<rect x="123" y="192" width="193" height="2.5" fill="url(#r15)"/>
<rect x="123" y="194" width="193" height="2.5" fill="url(#r16)"/>
<rect x="123" y="196" width="193" height="2.5" fill="url(#r17)"/>
<rect x="123" y="198" width="193" height="2.5" fill="url(#r18)"/>
<rect x="123" y="200" width="193" height="2.5" fill="url(#r19)"/>
<rect x="123" y="202" width="193" height="2.5" fill="url(#r20)"/>
<rect x="123" y="204" width="193" height="2.5" fill="url(#r21)"/>
<rect x="123" y="206" width="193" height="2.5" fill="url(#r22)"/>
<rect x="123" y="208" width="193" height="2.5" fill="url(#r23)"/>
<rect x="123" y="210" width="193" height="2.5" fill="url(#r24)"/>
<rect x="123" y="212" width="193" height="2.5" fill="url(#r25)"/>
<rect x="123" y="214" width="193" height="2.5" fill="url(#r26)"/>
<rect x="123" y="216" width="193" height="2.5" fill="url(#r27)"/>
<rect x="123" y="218" width="193" height="2.5" fill="url(#r28)"/>
<rect x="123" y="220" width="193" height="2.5" fill="url(#r29)"/>
<rect x="123" y="222" width="193" height="2.5" fill="url(#r30)"/>
<rect x="123" y="224" width="193" height="2.5" fill="url(#r31)"/>
<rect x="123" y="226" width="193" height="2.5" fill="url(#r32)"/>
<rect x="123" y="228" width="193" height="2.5" fill="url(#r33)"/>
<rect x="123" y="230" width="193" height="2.5" fill="url(#r34)"/>
<rect x="123" y="232" width="193" height="2.5" fill="url(#r35)"/>
<rect x="123" y="234" width="193" height="2.5" fill="url(#r36)"/>
<rect x="123" y="236" width="193" height="2.5" fill="url(#r37)"/>
<rect x="123" y="238" width="193" height="2.5" fill="url(#r38)"/>
<rect x="123" y="240" width="193" height="2.5" fill="url(#r39)"/>
<rect x="123" y="242" width="193" height="2.5" fill="url(#r40)"/>
<rect x="123" y="244" width="193" height="2.5" fill="url(#r41)"/>
<rect x="123" y="246" width="193" height="2.5" fill="url(#r42)"/>
<rect x="123" y="248" width="193" height="2.5" fill="url(#r43)"/>
<rect x="123" y="250" width="193" height="2.5" fill="url(#r44)"/>
<rect x="123" y="252" width="193" height="2.5" fill="url(#r45)"/>
<rect x="123" y="254" width="193" height="2.5" fill="url(#r46)"/>
<rect x="123" y="256" width="193" height="2.5" fill="url(#r47)"/>
<rect x="123" y="258" width="193" height="2.5" fill="url(#r48)"/>
<rect x="123" y="260" width="193" height="2.5" fill="url(#r49)"/>
<rect x="123" y="262" width="193" height="2.5" fill="url(#r50)"/>
<rect x="123" y="264" width="193" height="2.5" fill="url(#r51)"/>
<rect x="123" y="266" width="193" height="2.5" fill="url(#r52)"/>
<rect x="123" y="268" width="193" height="2.5" fill="url(#r53)"/>
<rect x="123" y="270" width="193" height="2.5" fill="url(#r54)"/>
<rect x="123" y="272" width="193" height="2.5" fill="url(#r55)"/>
<rect x="123" y="274" width="193" height="2.5" fill="url(#r56)"/>
<rect x="123" y="276" width="193" height="2.5" fill="url(#r57)"/>
<rect x="123" y="278" width="193" height="2.5" fill="url(#r58)"/>
<rect x="123" y="280" width="193" height="2.5" fill="url(#r59)"/>
<rect x="123" y="282" width="193" height="2.5" fill="url(#r60)"/>
<rect x="123" y="284" width="193" height="2.5" fill="url(#r61)"/>
<rect x="123" y="286" width="193" height="2.5" fill="url(#r62)"/>
<rect x="123" y="288" width="193" height="2.5" fill="url(#r63)"/>
<rect x="123" y="290" width="193" height="2.5" fill="url(#r64)"/>
<rect x="123" y="292" width="193" height="2.5" fill="url(#r65)"/>
<rect x="123" y="294" width="193" height="2.5" fill="url(#r66)"/>
<rect x="123" y="296" width="193" height="2.5" fill="url(#r67)"/>
<rect x="123" y="298" width="193" height="2.5" fill="url(#r68)"/>
<rect x="123" y="300" width="193" height="2.5" fill="url(#r69)"/>
<rect x="123" y="302" width="193" height="2.5" fill="url(#r70)"/>
<rect x="123" y="304" width="193" height="2.5" fill="url(#r71)"/>
<rect x="123" y="306" width="193" height="2.5" fill="url(#r72)"/>
<rect x="123" y="308" width="193" height="2.5" fill="url(#r73)"/>
<rect x="123" y="310" width="193" height="2.5" fill="url(#r74)"/>
<rect x="123" y="312" width="193" height="2.5" fill="url(#r75)"/>
<rect x="123" y="314" width="193" height="2.5" fill="url(#r76)"/>
<rect x="123" y="316" width="193" height="2.5" fill="url(#r77)"/>
<rect x="123" y="318" width="193" height="2.5" fill="url(#r78)"/>
<rect x="123" y="320" width="193" height="2.5" fill="url(#r79)"/>
<rect x="123" y="322" width="193" height="2.5" fill="url(#r80)"/>
<rect x="123" y="324" width="193" height="2.5" fill="url(#r81)"/>
<rect x="123" y="326" width="193" height="2.5" fill="url(#r82)"/>
<rect x="123" y="328" width="193" height="2.5" fill="url(#r83)"/>
<rect x="123" y="330" width="193" height="2.5" fill="url(#r84)"/>
<rect x="123" y="332" width="193" height="2.5" fill="url(#r85)"/>
<rect x="123" y="334" width="193" height="2.5" fill="url(#r86)"/>
<rect x="123" y="336" width="193" height="2.5" fill="url(#r87)"/>
<rect x="123" y="338" width="193" height="2.5" fill="url(#r88)"/>
<rect x="123" y="340" width="193" height="2.5" fill="url(#r89)"/>
<rect x="123" y="342" width="193" height="2.5" fill="url(#r90)"/>
<rect x="123" y="344" width="193" height="2.5" fill="url(#r91)"/>
<rect x="123" y="346" width="193" height="2.5" fill="url(#r92)"/>
<rect x="123" y="348" width="193" height="2.5" fill="url(#r93)"/>
<rect x="123" y="350" width="193" height="2.5" fill="url(#r94)"/>
<rect x="123" y="352" width="193" height="2.5" fill="url(#r95)"/>
<rect x="123" y="354" width="193" height="1" fill="url(#r96)"/>
</g>
<clipPath id="cp"><rect x="123" y="162" width="193" height="193"/></clipPath>
<g fill="none" stroke-width="1.15" stroke-linejoin="round" stroke-linecap="butt" clip-path="url(#cp)">
<path stroke="#18dfe6" d="M131.1 355.0L130.5 353.0L129.4 351.0L128.0 349.6L126.0 348.7L123.5 348.0L123.0 347.9"/>
<path stroke="#23d5e6" d="M144.2 355.0L144.6 352.0L144.6 349.0L143.9 347.0L142.6 345.0L141.0 343.3L139.3 342.0L137.5 341.0L135.0 340.0L133.0 339.5L130.3 339.0L128.0 338.7L125.0 338.4L123.0 338.3"/>
<path stroke="#2dcae6" d="M158.1 355.0L159.1 353.0L160.4 351.0L162.0 349.1L163.0 348.0L164.6 346.0L165.8 344.0L166.5 342.0L166.0 339.5L164.7 338.0L163.0 337.0L160.6 336.0L158.0 335.2L156.0 334.6L153.1 334.0L151.0 333.7L148.0 333.2L146.0 332.9L143.0 332.5L140.0 332.1L138.0 331.9L135.0 331.7L132.0 331.5L129.0 331.4L126.0 331.2L123.1 331.0L123.0 331.0"/>
<path stroke="#38c0e6" d="M170.9 355.0L172.0 353.2L173.0 351.8L175.0 350.0L176.9 349.0L178.8 348.0L180.8 347.0L182.9 346.0L184.9 345.0L187.0 344.1L189.0 343.0L191.0 342.0L192.7 341.0L194.1 340.0L195.6 338.0L194.6 336.0L193.0 334.9L191.0 334.0L188.3 333.0L186.0 332.2L184.0 331.7L181.2 331.0L179.0 330.5L176.6 330.0L174.0 329.5L171.9 329.0L169.0 328.4L166.7 328.0L164.0 327.6L161.0 327.2L159.0 327.0L156.0 326.6L153.0 326.2L151.0 325.9L148.0 325.6L145.0 325.2L142.4 325.0L140.0 324.9L137.0 324.8L134.0 324.7L131.0 324.6L128.0 324.5L125.0 324.4L123.0 324.3"/>
<path stroke="#42b5e6" d="M183.8 355.0L185.0 353.3L186.1 352.0L188.0 350.5L190.0 349.4L192.0 348.5L194.0 347.6L196.0 346.8L198.4 346.0L201.0 345.1L203.0 344.4L205.0 343.8L207.8 343.0L210.0 342.4L212.0 341.9L215.0 341.1L217.0 340.6L219.4 340.0L222.0 339.0L223.6 338.0L224.1 336.0L223.0 334.5L221.0 333.1L219.0 332.2L217.0 331.3L215.0 330.6L213.0 329.9L210.0 329.0L208.0 328.5L206.0 328.0L203.0 327.2L201.0 326.7L198.0 326.0L196.0 325.5L193.5 325.0L191.0 324.5L188.9 324.0L186.0 323.4L184.0 322.9L181.0 322.3L179.0 321.9L176.0 321.3L174.0 320.9L171.0 320.6L168.0 320.2L166.0 320.0L163.0 319.7L160.0 319.3L157.1 319.0L155.0 318.8L152.0 318.5L149.0 318.3L146.0 318.2L143.0 318.1L140.0 318.1L137.0 318.0L135.0 318.0L132.0 317.9L129.0 317.9L126.0 317.8L123.0 317.7"/>
<path stroke="#4cabe6" d="M197.7 355.0L199.0 353.9L201.0 352.4L203.0 351.4L205.0 350.6L207.1 350.0L210.0 349.5L213.0 349.1L215.0 348.9L218.0 348.6L221.0 348.3L224.0 348.0L226.0 347.8L229.0 347.5L232.0 347.1L234.0 346.8L237.0 346.3L239.4 346.0L242.0 345.6L244.3 345.0L246.7 344.0L248.2 343.0L250.0 341.1L250.6 339.0L249.9 337.0L248.3 335.0L247.0 333.9L245.0 332.5L243.0 331.3L241.0 330.4L239.0 329.5L237.0 328.7L235.0 328.0L232.2 327.0L230.0 326.2L228.0 325.6L226.0 324.9L223.2 324.0L221.0 323.3L219.0 322.7L216.5 322.0L214.0 321.3L212.0 320.8L209.0 320.0L207.0 319.5L205.0 319.0L202.0 318.2L200.0 317.8L197.0 317.1L195.0 316.7L192.0 316.1L190.0 315.6L187.0 315.0L185.0 314.6L182.0 314.1L180.0 313.8L177.0 313.4L174.0 313.1L172.0 312.9L169.0 312.5L166.0 312.2L163.9 312.0L161.0 311.7L158.0 311.5L155.0 311.4L152.0 311.3L149.0 311.3L146.0 311.3L143.0 311.2L140.0 311.2L137.0 311.1L134.0 311.1L131.0 311.1L128.0 311.1L125.0 311.0L123.0 310.9"/>
<path stroke="#57a0e6" d="M256.1 355.0L258.0 353.2L259.0 352.0L260.4 350.0L261.4 348.0L262.1 346.0L262.7 343.0L262.4 340.0L261.9 338.0L261.0 335.9L259.9 334.0L258.4 332.0L257.0 330.4L255.6 329.0L254.0 327.2L252.6 326.0L251.0 324.7L249.0 323.4L247.0 322.2L245.0 321.0L243.2 320.0L241.4 319.0L239.5 318.0L237.2 317.0L235.0 316.2L233.0 315.5L231.0 314.9L228.3 314.0L226.0 313.2L224.0 312.5L222.0 311.8L219.5 311.0L217.0 310.3L215.0 309.8L212.0 309.1L210.0 308.6L207.3 308.0L205.0 307.5L202.9 307.0L200.0 306.5L197.0 306.0L195.0 305.7L192.0 305.3L189.4 305.0L187.0 304.7L184.0 304.3L181.3 304.0L179.0 303.8L176.0 303.5L173.0 303.3L170.1 303.0L168.0 302.8L165.0 302.6L162.0 302.3L159.0 302.1L157.0 302.0L154.0 301.9L151.0 301.8L148.0 301.7L145.0 301.7L142.0 301.6L139.0 301.5L136.0 301.4L133.0 301.3L130.0 301.3L127.0 301.2L124.0 301.1L123.0 301.0"/>
<path stroke="#6196e6" d="M274.2 355.0L274.3 352.0L274.1 349.0L274.0 346.1L273.8 344.0L273.4 341.0L272.9 339.0L272.1 336.0L271.4 334.0L270.6 332.0L269.7 330.0L268.7 328.0L267.5 326.0L266.4 324.0L265.2 322.0L264.0 320.4L262.9 319.0L261.2 317.0L260.0 315.7L258.5 314.0L257.0 312.3L255.8 311.0L254.0 309.4L252.1 308.0L250.6 307.0L249.0 305.9L247.0 304.7L245.0 303.6L243.0 302.7L241.0 301.9L238.6 301.0L236.0 300.2L234.0 299.6L231.4 299.0L229.0 298.5L226.0 298.1L224.0 297.8L221.0 297.5L218.0 297.2L215.1 297.0L213.0 296.8L210.0 296.6L207.0 296.4L204.0 296.1L202.0 296.0L199.0 295.7L196.0 295.5L193.0 295.2L190.4 295.0L188.0 294.8L185.0 294.5L182.0 294.3L179.0 294.0L177.0 293.8L174.0 293.6L171.0 293.3L168.0 293.1L166.0 292.9L163.0 292.6L160.0 292.4L157.0 292.1L155.0 292.0L152.0 291.7L149.0 291.5L146.0 291.2L143.2 291.0L141.0 290.8L138.0 290.6L135.0 290.3L132.0 290.1L130.0 290.0L127.0 289.7L124.0 289.5L123.0 289.3"/>
<path stroke="#6c8be6" d="M279.4 355.0L279.5 352.0L279.4 349.0L279.4 346.0L279.4 343.0L279.3 340.0L279.0 338.0L278.3 335.0L277.8 333.0L277.0 330.4L276.1 328.0L275.0 326.0L274.0 324.0L273.0 322.1L272.0 320.3L271.0 318.6L269.9 317.0L268.5 315.0L267.0 313.2L266.0 311.8L264.5 310.0L263.0 308.2L261.9 307.0L260.0 305.2L258.7 304.0L257.0 302.6L255.1 301.0L254.0 300.0L252.0 298.4L250.1 297.0L248.7 296.0L247.0 294.9L245.0 293.6L243.0 292.5L241.0 291.6L239.0 290.7L237.0 289.9L234.5 289.0L232.0 288.2L230.0 287.5L228.0 287.0L225.0 286.2L223.0 285.7L220.0 285.1L218.0 284.7L215.0 284.2L213.0 283.9L210.0 283.4L207.3 283.0L205.0 282.6L202.0 282.2L200.0 281.9L197.0 281.4L194.5 281.0L192.0 280.6L189.0 280.1L187.0 279.8L184.0 279.3L181.5 279.0L179.0 278.7L176.0 278.4L173.0 278.0L171.0 277.8L168.0 277.5L165.0 277.1L163.0 276.9L160.0 276.6L157.0 276.4L154.0 276.1L152.0 275.9L149.0 275.6L146.0 275.3L143.0 275.0L141.0 274.8L138.0 274.5L135.0 274.2L132.9 274.0L130.0 273.7L127.0 273.4L124.0 273.1L123.0 273.0"/>
<path stroke="#7681e6" d="M283.5 355.0L283.6 352.0L283.6 349.0L283.8 346.0L283.9 343.0L284.0 340.1L284.0 339.0L283.9 336.0L283.7 333.0L283.4 330.0L282.9 328.0L282.1 325.0L281.4 323.0L280.7 321.0L279.9 319.0L279.0 317.0L277.9 315.0L276.6 313.0L275.3 311.0L274.0 309.2L273.0 307.8L271.5 306.0L270.0 304.4L268.6 303.0L267.0 301.4L265.6 300.0L264.0 298.5L262.5 297.0L261.0 295.4L259.8 294.0L258.0 292.0L257.0 290.8L255.3 289.0L254.0 287.7L252.1 286.0L250.9 285.0L249.0 283.4L247.1 282.0L245.6 281.0L244.0 280.0L242.0 278.9L239.9 278.0L237.5 277.0L235.1 276.0L233.0 275.2L231.0 274.4L229.0 273.8L226.4 273.0L224.0 272.2L222.0 271.7L219.4 271.0L217.0 270.5L214.7 270.0L212.0 269.5L209.2 269.0L207.0 268.6L204.0 268.1L202.0 267.7L199.0 267.0L197.0 266.6L194.6 266.0L192.0 265.4L190.0 264.9L187.0 264.3L185.0 263.8L182.0 263.2L180.0 262.9L177.0 262.3L175.0 261.9L172.0 261.4L170.0 261.0L167.0 260.4L164.7 260.0L162.0 259.5L159.3 259.0L157.0 258.6L154.1 258.0L152.0 257.6L149.0 257.0L147.0 256.6L144.0 256.0L142.0 255.6L139.0 255.1L137.0 254.8L134.0 254.5L131.0 254.3L128.1 254.0L126.0 253.8L123.0 253.5"/>
<path stroke="#8176e6" d="M287.4 355.0L287.4 352.0L287.6 349.0L287.8 346.0L287.9 343.0L288.0 340.2L288.1 338.0L288.0 335.0L288.0 333.0L287.6 330.0L287.1 327.0L286.7 325.0L286.0 322.0L285.4 320.0L284.6 318.0L283.7 316.0L282.7 314.0L281.7 312.0L280.6 310.0L279.4 308.0L278.1 306.0L277.0 304.5L275.8 303.0L274.3 301.0L273.0 299.4L272.0 298.0L270.6 296.0L269.3 294.0L268.1 292.0L267.0 290.2L266.0 288.5L265.0 286.9L263.7 285.0L262.1 283.0L261.0 281.8L259.5 280.0L258.0 278.3L256.8 277.0L255.0 275.2L253.7 274.0L252.0 272.5L250.2 271.0L248.9 270.0L247.0 268.5L245.0 267.2L243.0 266.0L241.1 265.0L239.3 264.0L237.4 263.0L235.4 262.0L233.2 261.0L231.0 260.1L229.0 259.4L227.0 258.8L224.6 258.0L222.0 257.2L220.0 256.6L217.9 256.0L215.0 255.2L213.0 254.7L210.0 254.0L208.0 253.5L206.0 253.0L203.0 252.2L201.0 251.7L198.0 251.0L196.0 250.5L194.0 250.0L191.0 249.2L189.0 248.7L186.3 248.0L184.0 247.4L182.0 246.9L179.0 246.1L177.0 245.5L175.0 244.9L172.0 244.1L170.0 243.4L168.0 242.8L165.4 242.0L163.0 241.2L161.0 240.6L159.0 240.0L156.0 239.1L154.0 238.4L152.0 237.8L149.5 237.0L147.0 236.2L145.0 235.6L142.8 235.0L140.0 234.4L137.4 234.0L135.0 233.6L132.0 233.1L130.0 232.7L127.0 232.2L125.0 231.9L123.0 231.5"/>
<path stroke="#8b6ce6" d="M291.0 355.0L291.1 353.0L291.3 350.0L291.6 347.0L291.9 344.0L292.0 342.0L292.2 339.0L292.3 336.0L292.2 333.0L292.0 330.5L291.7 328.0L291.3 325.0L290.9 323.0L290.3 320.0L289.7 318.0L289.0 315.8L288.0 313.0L287.3 311.0L286.5 309.0L285.5 307.0L284.5 305.0L283.5 303.0L282.5 301.0L281.5 299.0L280.5 297.0L279.6 295.0L278.7 293.0L277.9 291.0L277.0 288.8L276.0 286.5L275.0 284.3L274.0 282.3L273.0 280.5L272.0 278.8L270.9 277.0L269.7 275.0L268.4 273.0L267.0 271.0L266.0 269.7L264.6 268.0L263.0 266.1L262.0 265.0L260.2 263.0L259.0 261.8L257.0 260.0L255.9 259.0L254.0 257.5L252.1 256.0L250.8 255.0L249.0 253.7L247.0 252.3L245.0 251.1L243.0 250.1L241.0 249.0L239.0 248.1L237.0 247.1L235.0 246.1L233.0 245.2L231.0 244.5L229.0 243.8L226.8 243.0L224.1 242.0L222.0 241.3L220.0 240.6L218.0 239.9L215.3 239.0L213.0 238.3L211.0 237.7L208.9 237.0L206.0 236.1L204.0 235.5L202.0 234.8L199.6 234.0L197.0 233.1L195.0 232.3L193.0 231.6L191.0 230.9L188.7 230.0L186.3 229.0L184.0 228.1L182.0 227.3L180.0 226.4L178.0 225.5L176.0 224.6L174.0 223.7L172.0 222.8L170.0 221.9L167.8 221.0L165.5 220.0L163.0 219.0L161.0 218.2L159.0 217.4L157.0 216.6L155.0 215.9L152.5 215.0L150.0 214.1L148.0 213.4L146.0 212.8L143.0 212.0L141.0 211.5L138.9 211.0L136.0 210.5L133.0 210.2L130.7 210.0L128.0 209.9L125.0 209.7L123.0 209.6"/>
<path stroke="#9661e6" d="M295.1 355.0L295.3 352.0L295.7 349.0L296.0 346.6L296.3 344.0L296.6 341.0L296.8 338.0L297.0 335.0L297.0 333.0L297.0 330.7L296.8 328.0L296.4 325.0L296.0 322.0L295.7 320.0L295.3 317.0L295.0 315.0L294.4 312.0L293.9 310.0L293.2 307.0L292.7 305.0L292.0 302.2L291.4 300.0L290.7 298.0L290.0 295.9L289.0 293.1L288.2 291.0L287.5 289.0L286.7 287.0L285.9 285.0L285.0 282.7L284.0 280.1L283.1 278.0L282.2 276.0L281.2 274.0L280.1 272.0L279.0 270.1L278.0 268.3L277.0 266.5L276.0 264.7L274.9 263.0L273.5 261.0L272.0 259.0L271.0 257.7L269.6 256.0L268.1 254.0L267.0 252.7L265.4 251.0L264.0 249.7L262.0 248.0L260.9 247.0L259.0 245.4L257.5 244.0L256.0 242.7L254.1 241.0L252.9 240.0L251.0 238.4L249.0 237.0L247.5 236.0L245.8 235.0L243.9 234.0L242.0 233.0L239.9 232.0L237.8 231.0L235.4 230.0L233.0 229.2L231.0 228.5L229.0 227.8L226.7 227.0L224.0 226.0L222.0 225.3L220.0 224.6L218.0 223.9L215.2 223.0L213.0 222.3L211.0 221.7L208.8 221.0L206.0 220.1L204.0 219.4L202.0 218.7L200.0 217.9L197.9 217.0L195.4 216.0L193.1 215.0L191.0 214.1L189.0 213.2L187.0 212.3L185.0 211.4L183.0 210.4L181.0 209.5L179.0 208.5L177.0 207.5L175.0 206.5L173.0 205.5L171.0 204.4L169.0 203.4L167.0 202.3L165.0 201.2L163.0 200.1L161.0 199.1L159.0 198.1L157.0 197.1L155.0 196.1L153.0 195.2L151.0 194.3L149.0 193.5L147.0 192.8L144.0 192.0L142.0 191.6L139.2 191.0L137.0 190.6L134.0 190.3L131.0 190.1L129.0 190.0L126.0 189.8L123.0 189.7"/>
<path stroke="#a057e6" d="M301.9 355.0L302.0 352.0L302.2 350.0L302.5 347.0L302.8 344.0L303.0 341.8L303.3 339.0L303.6 336.0L303.8 333.0L303.9 330.0L304.0 327.0L303.8 324.0L303.7 321.0L303.5 318.0L303.3 315.0L303.0 312.0L302.8 310.0L302.3 307.0L301.9 305.0L301.3 302.0L300.9 300.0L300.3 297.0L299.8 295.0L299.1 292.0L298.6 290.0L298.0 287.8L297.2 285.0L296.6 283.0L296.0 281.0L295.0 278.0L294.3 276.0L293.6 274.0L292.9 272.0L292.0 269.8L291.0 267.6L290.0 265.5L289.0 263.3L288.0 261.3L287.0 259.5L286.0 257.7L284.9 256.0L283.6 254.0L282.3 252.0L281.0 250.2L280.0 248.9L278.4 247.0L277.0 245.4L275.7 244.0L274.0 242.1L273.0 241.0L271.0 239.0L270.0 238.0L268.0 236.0L266.9 235.0L265.0 233.4L263.1 232.0L261.7 231.0L260.0 229.8L258.0 228.5L256.0 227.2L254.0 226.0L252.4 225.0L250.7 224.0L249.0 223.0L247.0 221.7L245.0 220.5L243.0 219.3L241.0 218.2L239.0 217.1L237.2 216.0L235.4 215.0L233.6 214.0L231.7 213.0L229.6 212.0L227.2 211.0L225.0 210.1L223.0 209.2L221.0 208.4L219.0 207.5L217.0 206.6L215.0 205.7L213.0 204.8L211.0 203.9L209.0 203.0L206.8 202.0L204.6 201.0L202.4 200.0L200.2 199.0L198.0 198.0L196.0 197.0L194.0 196.0L192.0 195.0L190.0 194.0L188.0 193.0L186.1 192.0L184.2 191.0L182.3 190.0L180.5 189.0L178.7 188.0L176.8 187.0L175.0 186.0L173.0 184.9L171.0 183.8L169.0 182.7L167.0 181.6L165.0 180.6L163.0 179.6L161.0 178.7L159.0 177.8L157.0 177.0L154.6 176.0L152.0 175.1L150.0 174.6L147.1 174.0L145.0 173.7L142.0 173.4L139.0 173.1L137.0 172.9L134.0 172.8L131.0 172.7L128.0 172.6L125.0 172.5L123.0 172.4"/>
<path stroke="#af4cd8" d="M310.9 355.0L311.0 353.0L311.2 350.0L311.5 347.0L311.8 344.0L312.0 341.2L312.2 339.0L312.3 336.0L312.4 333.0L312.3 330.0L312.1 327.0L312.1 324.0L312.0 321.0L312.0 318.0L312.0 316.0L311.8 313.0L311.5 310.0L311.2 307.0L311.0 305.0L310.6 302.0L310.2 299.0L309.9 297.0L309.5 294.0L309.1 291.0L308.9 289.0L308.3 286.0L307.9 284.0L307.2 281.0L306.6 279.0L306.0 276.7L305.2 274.0L304.4 272.0L303.6 270.0L302.7 268.0L301.8 266.0L300.9 264.0L300.0 262.0L299.0 259.9L298.0 257.6L297.0 255.3L296.0 253.0L295.1 251.0L294.1 249.0L293.0 247.0L292.0 245.3L291.0 243.6L290.0 242.0L288.7 240.0L287.4 238.0L286.0 236.2L285.0 234.9L283.3 233.0L282.0 231.6L280.4 230.0L279.0 228.6L277.4 227.0L276.0 225.8L274.0 224.1L272.7 223.0L271.0 221.6L269.0 220.0L267.8 219.0L266.0 217.6L264.0 216.0L262.7 215.0L261.0 213.8L259.0 212.3L257.3 211.0L255.9 210.0L254.0 208.8L252.0 207.5L250.0 206.3L248.0 205.1L246.3 204.0L244.6 203.0L242.9 202.0L241.0 201.0L239.0 200.0L237.0 199.0L235.0 198.0L233.0 197.0L230.9 196.0L228.8 195.0L226.6 194.0L224.4 193.0L222.2 192.0L220.2 191.0L218.5 190.0L217.0 189.0L215.0 187.7L213.0 186.4L211.0 185.2L209.0 184.0L207.3 183.0L205.7 182.0L204.0 181.0L202.0 179.7L200.0 178.4L198.0 177.2L196.2 176.0L194.6 175.0L192.9 174.0L191.0 172.9L189.0 171.8L187.0 170.7L185.0 169.6L183.0 168.5L181.0 167.4L179.0 166.3L177.0 165.2L175.0 164.1L173.0 163.0L171.0 162.1L170.8 162.0"/>
<path stroke="#be42cb" d="M316.0 282.8L315.8 280.0L315.3 277.0L315.0 275.0L314.3 272.0L313.9 270.0L313.2 267.0L312.7 265.0L312.0 262.3L311.2 260.0L310.4 258.0L309.6 256.0L308.8 254.0L308.0 252.0L307.0 249.8L306.0 247.6L305.0 245.4L304.0 243.2L303.0 241.1L302.0 239.1L301.0 237.3L300.0 235.6L299.0 234.0L297.7 232.0L296.2 230.0L295.0 228.7L293.4 227.0L292.0 225.6L290.3 224.0L289.0 222.7L287.2 221.0L286.0 219.8L284.1 218.0L283.0 217.0L281.0 215.1L279.8 214.0L278.0 212.3L276.6 211.0L275.0 209.5L273.3 208.0L272.0 206.9L270.0 205.2L268.6 204.0L267.0 202.7L265.0 201.0L263.7 200.0L262.0 198.7L260.0 197.2L258.4 196.0L257.0 195.0L255.0 193.5L253.0 192.0L251.6 191.0L250.0 189.9L248.0 188.5L246.0 187.1L244.3 186.0L242.9 185.0L241.0 183.7L239.0 182.4L237.0 181.1L235.3 180.0L233.7 179.0L232.0 177.9L230.0 176.6L228.0 175.3L226.2 174.0L224.8 173.0L223.0 171.7L221.0 170.2L219.5 169.0L218.0 167.8L216.0 166.0L214.9 165.0L213.0 163.4L211.2 162.0"/>
<path stroke="#cc38be" d="M316.0 238.6L315.6 236.0L314.7 234.0L313.5 232.0L312.1 230.0L311.0 228.5L309.9 227.0L308.4 225.0L307.0 223.3L305.9 222.0L304.1 220.0L303.0 218.8L301.5 217.0L300.0 215.3L298.9 214.0L297.2 212.0L296.0 210.7L294.5 209.0L293.0 207.3L291.8 206.0L290.0 204.1L288.9 203.0L287.0 201.2L285.6 200.0L284.0 198.5L282.4 197.0L281.0 195.8L279.0 194.0L277.9 193.0L276.0 191.5L274.1 190.0L272.8 189.0L271.0 187.6L269.0 186.1L267.6 185.0L266.0 183.8L264.0 182.2L262.5 181.0L261.0 179.9L259.0 178.3L257.4 177.0L256.0 175.9L254.0 174.4L252.3 173.0L251.0 172.0L249.0 170.3L247.5 169.0L246.0 167.7L244.1 166.0L242.9 165.0L241.0 163.4L239.4 162.0"/>
<path stroke="#db2db0" d="M316.0 213.7L314.8 212.0L313.3 210.0L312.0 208.3L311.0 207.0L309.5 205.0L308.0 203.2L306.9 202.0L305.0 200.0L304.0 199.0L302.0 197.0L301.0 196.0L299.0 194.0L298.0 193.0L296.0 191.2L294.7 190.0L293.0 188.4L291.4 187.0L290.0 185.7L288.1 184.0L287.0 183.0L285.0 181.2L283.7 180.0L282.0 178.4L280.4 177.0L279.0 175.7L277.2 174.0L276.0 172.9L274.0 171.0L272.9 170.0L271.0 168.2L269.7 167.0L268.0 165.3L266.6 164.0L265.0 162.5L264.4 162.0"/>
<path stroke="#ea23a3" d="M316.0 192.6L314.7 191.0L313.0 189.0L312.0 187.8L310.5 186.0L309.0 184.2L307.8 183.0L306.0 181.2L304.7 180.0L303.0 178.5L301.4 177.0L300.0 175.8L298.1 174.0L297.0 173.0L295.0 171.1L293.8 170.0L292.0 168.2L290.7 167.0L289.0 165.4L287.6 164.0L286.0 162.5L285.5 162.0"/>
<path stroke="#f91895" d="M316.0 172.6L314.8 171.0L313.4 169.0L312.0 167.1L311.0 165.9L309.3 164.0L308.0 162.6L307.4 162.0"/>
</g>
<g stroke="#701808" stroke-width="0.9" fill="#701808" opacity="0.85">
<circle cx="129.9" cy="347.7" r="0.41" stroke="none"/>
<circle cx="129.9" cy="334.9" r="0.44" stroke="none"/>
<circle cx="129.9" cy="322.1" r="0.49" stroke="none"/>
<circle cx="129.9" cy="309.3" r="0.53" stroke="none"/>
<circle cx="129.9" cy="296.5" r="0.56" stroke="none"/>
<circle cx="129.9" cy="283.7" r="0.58" stroke="none"/>
<circle cx="129.9" cy="270.9" r="0.57" stroke="none"/>
<circle cx="129.9" cy="258.1" r="0.54" stroke="none"/>
<circle cx="129.9" cy="245.3" r="0.50" stroke="none"/>
<circle cx="129.9" cy="232.5" r="0.46" stroke="none"/>
<circle cx="129.9" cy="219.7" r="0.43" stroke="none"/>
<circle cx="129.9" cy="206.9" r="0.41" stroke="none"/>
<circle cx="129.9" cy="194.1" r="0.40" stroke="none"/>
<circle cx="129.9" cy="181.3" r="0.40" stroke="none"/>
<circle cx="129.9" cy="168.5" r="0.40" stroke="none"/>
<circle cx="142.7" cy="347.7" r="0.47" stroke="none"/>
<circle cx="142.7" cy="334.9" r="0.59" stroke="none"/>
<circle cx="142.7" cy="322.1" r="0.74" stroke="none"/>
<circle cx="142.7" cy="309.3" r="0.89" stroke="none"/>
<path d="M142.6 295.9L142.7 296.5" fill="none"/><path d="M142.8 297.1L143.2 296.4L142.2 296.6Z" stroke="none"/>
<path d="M142.7 283.1L142.7 283.7" fill="none"/><path d="M142.7 284.3L143.3 283.7L142.1 283.7Z" stroke="none"/>
<path d="M142.7 270.3L142.7 270.9" fill="none"/><path d="M142.7 271.5L143.3 270.9L142.1 270.9Z" stroke="none"/>
<path d="M142.7 257.6L142.7 258.1" fill="none"/><path d="M142.7 258.6L143.2 258.1L142.2 258.1Z" stroke="none"/>
<circle cx="142.7" cy="245.3" r="0.76" stroke="none"/>
<circle cx="142.7" cy="232.5" r="0.62" stroke="none"/>
<circle cx="142.7" cy="219.7" r="0.51" stroke="none"/>
<circle cx="142.7" cy="206.9" r="0.45" stroke="none"/>
<circle cx="142.7" cy="194.1" r="0.42" stroke="none"/>
<circle cx="142.7" cy="181.3" r="0.41" stroke="none"/>
<circle cx="142.7" cy="168.5" r="0.40" stroke="none"/>
<circle cx="155.5" cy="347.7" r="0.59" stroke="none"/>
<circle cx="155.5" cy="334.9" r="0.81" stroke="none"/>
<path d="M155.2 321.6L155.5 322.1" fill="none"/><path d="M155.8 322.6L156.0 321.8L155.0 322.4Z" stroke="none"/>
<path d="M155.2 308.5L155.5 309.3" fill="none"/><path d="M155.8 310.1L156.2 309.0L154.8 309.6Z" stroke="none"/>
<path d="M155.3 295.5L155.5 296.5" fill="none"/><path d="M155.7 297.5L156.4 296.3L154.6 296.7Z" stroke="none"/>
<path d="M155.4 282.6L155.5 283.7" fill="none"/><path d="M155.6 284.8L156.5 283.6L154.5 283.8Z" stroke="none"/>
<path d="M155.5 269.9L155.5 270.9" fill="none"/><path d="M155.5 271.9L156.4 270.9L154.6 270.9Z" stroke="none"/>
<path d="M155.6 257.2L155.5 258.1" fill="none"/><path d="M155.4 259.0L156.3 258.2L154.7 258.0Z" stroke="none"/>
<path d="M155.6 244.7L155.5 245.3" fill="none"/><path d="M155.4 245.9L156.1 245.4L154.9 245.2Z" stroke="none"/>
<circle cx="155.5" cy="232.5" r="0.78" stroke="none"/>
<circle cx="155.5" cy="219.7" r="0.60" stroke="none"/>
<circle cx="155.5" cy="206.9" r="0.50" stroke="none"/>
<circle cx="155.5" cy="194.1" r="0.44" stroke="none"/>
<circle cx="155.5" cy="181.3" r="0.41" stroke="none"/>
<circle cx="155.5" cy="168.5" r="0.40" stroke="none"/>
<circle cx="168.3" cy="347.7" r="0.77" stroke="none"/>
<path d="M167.7 334.6L168.3 334.9" fill="none"/><path d="M168.9 335.2L168.6 334.3L168.0 335.5Z" stroke="none"/>
<path d="M167.6 321.4L168.3 322.1" fill="none"/><path d="M169.0 322.8L168.9 321.5L167.7 322.7Z" stroke="none"/>
<path d="M167.7 308.3L168.3 309.3" fill="none"/><path d="M168.9 310.3L169.2 308.8L167.4 309.8Z" stroke="none"/>
<path d="M167.9 295.2L168.3 296.5" fill="none"/><path d="M168.7 297.8L169.5 296.1L167.1 296.9Z" stroke="none"/>
<path d="M168.1 282.3L168.3 283.7" fill="none"/><path d="M168.5 285.1L169.6 283.5L167.0 283.9Z" stroke="none"/>
<path d="M168.3 269.6L168.3 270.9" fill="none"/><path d="M168.3 272.2L169.5 270.9L167.1 270.9Z" stroke="none"/>
<path d="M168.5 257.0L168.3 258.1" fill="none"/><path d="M168.1 259.2L169.3 258.3L167.3 257.9Z" stroke="none"/>
<path d="M168.5 244.5L168.3 245.3" fill="none"/><path d="M168.1 246.1L169.0 245.5L167.6 245.1Z" stroke="none"/>
<path d="M168.5 232.0L168.3 232.5" fill="none"/><path d="M168.1 233.0L168.7 232.7L167.9 232.3Z" stroke="none"/>
<circle cx="168.3" cy="219.7" r="0.69" stroke="none"/>
<circle cx="168.3" cy="206.9" r="0.54" stroke="none"/>
<circle cx="168.3" cy="194.1" r="0.46" stroke="none"/>
<circle cx="168.3" cy="181.3" r="0.42" stroke="none"/>
<circle cx="168.3" cy="168.5" r="0.41" stroke="none"/>
<path d="M180.5 347.6L181.1 347.7" fill="none"/><path d="M181.7 347.8L181.2 347.2L181.0 348.2Z" stroke="none"/>
<path d="M180.1 334.5L181.1 334.9" fill="none"/><path d="M182.1 335.3L181.4 334.0L180.8 335.8Z" stroke="none"/>
<path d="M180.1 321.4L181.1 322.1" fill="none"/><path d="M182.1 322.8L181.8 321.2L180.4 323.0Z" stroke="none"/>
<path d="M180.2 308.2L181.1 309.3" fill="none"/><path d="M182.0 310.4L182.1 308.5L180.1 310.1Z" stroke="none"/>
<path d="M180.5 295.1L181.1 296.5" fill="none"/><path d="M181.7 297.9L182.3 295.9L179.9 297.1Z" stroke="none"/>
<path d="M180.8 282.2L181.1 283.7" fill="none"/><path d="M181.4 285.2L182.4 283.5L179.8 283.9Z" stroke="none"/>
<path d="M181.2 269.5L181.1 270.9" fill="none"/><path d="M181.0 272.3L182.4 271.0L179.8 270.8Z" stroke="none"/>
<path d="M181.4 256.9L181.1 258.1" fill="none"/><path d="M180.8 259.3L182.2 258.4L180.0 257.8Z" stroke="none"/>
<path d="M181.5 244.5L181.1 245.3" fill="none"/><path d="M180.7 246.1L181.9 245.6L180.3 245.0Z" stroke="none"/>
<path d="M181.4 232.0L181.1 232.5" fill="none"/><path d="M180.8 233.0L181.6 232.8L180.6 232.2Z" stroke="none"/>
<circle cx="181.1" cy="219.7" r="0.76" stroke="none"/>
<circle cx="181.1" cy="206.9" r="0.59" stroke="none"/>
<circle cx="181.1" cy="194.1" r="0.49" stroke="none"/>
<circle cx="181.1" cy="181.3" r="0.44" stroke="none"/>
<circle cx="181.1" cy="168.5" r="0.41" stroke="none"/>
<path d="M193.1 347.6L193.9 347.7" fill="none"/><path d="M194.7 347.8L194.0 347.0L193.8 348.4Z" stroke="none"/>
<path d="M192.6 334.6L193.9 334.9" fill="none"/><path d="M195.2 335.2L194.2 333.7L193.6 336.1Z" stroke="none"/>
<path d="M192.5 321.4L193.9 322.1" fill="none"/><path d="M195.3 322.8L194.5 320.8L193.3 323.4Z" stroke="none"/>
<path d="M192.7 308.3L193.9 309.3" fill="none"/><path d="M195.1 310.3L194.8 308.2L193.0 310.4Z" stroke="none"/>
<path d="M193.1 295.3L193.9 296.5" fill="none"/><path d="M194.7 297.7L195.0 295.7L192.8 297.3Z" stroke="none"/>
<path d="M193.5 282.4L193.9 283.7" fill="none"/><path d="M194.3 285.0L195.1 283.4L192.7 284.0Z" stroke="none"/>
<path d="M194.0 269.6L193.9 270.9" fill="none"/><path d="M193.8 272.2L195.1 271.0L192.7 270.8Z" stroke="none"/>
<path d="M194.3 257.0L193.9 258.1" fill="none"/><path d="M193.5 259.2L194.9 258.5L192.9 257.7Z" stroke="none"/>
<path d="M194.4 244.5L193.9 245.3" fill="none"/><path d="M193.4 246.1L194.6 245.8L193.2 244.8Z" stroke="none"/>
<path d="M194.4 232.0L193.9 232.5" fill="none"/><path d="M193.4 233.0L194.3 232.9L193.5 232.1Z" stroke="none"/>
<circle cx="193.9" cy="219.7" r="0.81" stroke="none"/>
<circle cx="193.9" cy="206.9" r="0.63" stroke="none"/>
<circle cx="193.9" cy="194.1" r="0.52" stroke="none"/>
<circle cx="193.9" cy="181.3" r="0.45" stroke="none"/>
<circle cx="193.9" cy="168.5" r="0.41" stroke="none"/>
<path d="M205.8 347.7L206.7 347.7" fill="none"/><path d="M207.6 347.7L206.7 346.9L206.7 348.5Z" stroke="none"/>
<path d="M205.1 334.7L206.7 334.9" fill="none"/><path d="M208.3 335.1L206.9 333.5L206.5 336.3Z" stroke="none"/>
<path d="M205.0 321.6L206.7 322.1" fill="none"/><path d="M208.4 322.6L207.1 320.6L206.3 323.6Z" stroke="none"/>
<path d="M205.2 308.6L206.7 309.3" fill="none"/><path d="M208.2 310.0L207.3 308.0L206.1 310.6Z" stroke="none"/>
<path d="M205.7 295.6L206.7 296.5" fill="none"/><path d="M207.7 297.4L207.5 295.6L205.9 297.4Z" stroke="none"/>
<path d="M206.3 282.8L206.7 283.7" fill="none"/><path d="M207.1 284.6L207.5 283.3L205.9 284.1Z" stroke="none"/>
<path d="M206.8 270.0L206.7 270.9" fill="none"/><path d="M206.6 271.8L207.5 271.0L205.9 270.8Z" stroke="none"/>
<path d="M207.2 257.4L206.7 258.1" fill="none"/><path d="M206.2 258.8L207.4 258.5L206.0 257.7Z" stroke="none"/>
<path d="M207.3 244.8L206.7 245.3" fill="none"/><path d="M206.1 245.8L207.2 245.9L206.2 244.7Z" stroke="none"/>
<path d="M207.3 232.2L206.7 232.5" fill="none"/><path d="M206.1 232.8L207.0 233.0L206.4 232.0Z" stroke="none"/>
<circle cx="206.7" cy="219.7" r="0.85" stroke="none"/>
<circle cx="206.7" cy="206.9" r="0.67" stroke="none"/>
<circle cx="206.7" cy="194.1" r="0.54" stroke="none"/>
<circle cx="206.7" cy="181.3" r="0.46" stroke="none"/>
<circle cx="206.7" cy="168.5" r="0.41" stroke="none"/>
<path d="M218.5 347.7L219.5 347.7" fill="none"/><path d="M220.5 347.7L219.5 346.8L219.5 348.6Z" stroke="none"/>
<path d="M217.8 334.8L219.5 334.9" fill="none"/><path d="M221.2 335.0L219.6 333.3L219.4 336.5Z" stroke="none"/>
<path d="M217.6 321.9L219.5 322.1" fill="none"/><path d="M221.4 322.3L219.6 320.5L219.4 323.7Z" stroke="none"/>
<path d="M217.9 309.1L219.5 309.3" fill="none"/><path d="M221.1 309.5L219.7 307.9L219.3 310.7Z" stroke="none"/>
<path d="M218.4 296.2L219.5 296.5" fill="none"/><path d="M220.6 296.8L219.8 295.5L219.2 297.5Z" stroke="none"/>
<path d="M219.0 283.4L219.5 283.7" fill="none"/><path d="M220.0 284.0L219.8 283.3L219.2 284.1Z" stroke="none"/>
<circle cx="219.5" cy="270.9" r="0.73" stroke="none"/>
<path d="M220.0 257.8L219.5 258.1" fill="none"/><path d="M219.0 258.4L219.7 258.6L219.3 257.6Z" stroke="none"/>
<path d="M220.2 245.1L219.5 245.3" fill="none"/><path d="M218.8 245.5L219.7 245.9L219.3 244.7Z" stroke="none"/>
<path d="M220.1 232.4L219.5 232.5" fill="none"/><path d="M218.9 232.6L219.6 233.1L219.4 231.9Z" stroke="none"/>
<circle cx="219.5" cy="219.7" r="0.86" stroke="none"/>
<circle cx="219.5" cy="206.9" r="0.68" stroke="none"/>
<circle cx="219.5" cy="194.1" r="0.55" stroke="none"/>
<circle cx="219.5" cy="181.3" r="0.46" stroke="none"/>
<circle cx="219.5" cy="168.5" r="0.41" stroke="none"/>
<path d="M231.3 347.7L232.3 347.7" fill="none"/><path d="M233.3 347.7L232.3 346.8L232.3 348.6Z" stroke="none"/>
<path d="M230.6 335.0L232.3 334.9" fill="none"/><path d="M234.0 334.8L232.2 333.3L232.4 336.5Z" stroke="none"/>
<path d="M230.4 322.3L232.3 322.1" fill="none"/><path d="M234.2 321.9L232.1 320.5L232.5 323.7Z" stroke="none"/>
<path d="M230.7 309.6L232.3 309.3" fill="none"/><path d="M233.9 309.0L232.1 307.9L232.5 310.7Z" stroke="none"/>
<path d="M231.2 296.8L232.3 296.5" fill="none"/><path d="M233.4 296.2L232.0 295.5L232.6 297.5Z" stroke="none"/>
<path d="M231.8 284.1L232.3 283.7" fill="none"/><path d="M232.8 283.3L232.0 283.3L232.6 284.1Z" stroke="none"/>
<circle cx="232.3" cy="270.9" r="0.75" stroke="none"/>
<path d="M232.8 258.4L232.3 258.1" fill="none"/><path d="M231.8 257.8L232.0 258.6L232.6 257.6Z" stroke="none"/>
<path d="M233.0 245.5L232.3 245.3" fill="none"/><path d="M231.6 245.1L232.1 245.9L232.5 244.7Z" stroke="none"/>
<path d="M232.9 232.6L232.3 232.5" fill="none"/><path d="M231.7 232.4L232.2 233.1L232.4 231.9Z" stroke="none"/>
<circle cx="232.3" cy="219.7" r="0.86" stroke="none"/>
<circle cx="232.3" cy="206.9" r="0.68" stroke="none"/>
<circle cx="232.3" cy="194.1" r="0.55" stroke="none"/>
<circle cx="232.3" cy="181.3" r="0.46" stroke="none"/>
<circle cx="232.3" cy="168.5" r="0.41" stroke="none"/>
<path d="M244.2 347.7L245.1 347.7" fill="none"/><path d="M246.0 347.7L245.1 346.9L245.1 348.5Z" stroke="none"/>
<path d="M243.5 335.1L245.1 334.9" fill="none"/><path d="M246.7 334.7L244.9 333.5L245.3 336.3Z" stroke="none"/>
<path d="M243.4 322.6L245.1 322.1" fill="none"/><path d="M246.8 321.6L244.7 320.6L245.5 323.6Z" stroke="none"/>
<path d="M243.6 310.0L245.1 309.3" fill="none"/><path d="M246.6 308.6L244.4 308.0L245.8 310.6Z" stroke="none"/>
<path d="M244.1 297.4L245.1 296.5" fill="none"/><path d="M246.1 295.6L244.3 295.6L245.9 297.4Z" stroke="none"/>
<path d="M244.7 284.7L245.1 283.7" fill="none"/><path d="M245.5 282.7L244.2 283.3L246.0 284.1Z" stroke="none"/>
<path d="M245.2 271.9L245.1 270.9" fill="none"/><path d="M245.0 269.9L244.2 271.0L246.0 270.8Z" stroke="none"/>
<path d="M245.6 258.9L245.1 258.1" fill="none"/><path d="M244.6 257.3L244.4 258.5L245.8 257.7Z" stroke="none"/>
<path d="M245.7 245.9L245.1 245.3" fill="none"/><path d="M244.5 244.7L244.6 245.9L245.6 244.7Z" stroke="none"/>
<path d="M245.7 232.8L245.1 232.5" fill="none"/><path d="M244.5 232.2L244.8 233.0L245.4 232.0Z" stroke="none"/>
<circle cx="245.1" cy="219.7" r="0.85" stroke="none"/>
<circle cx="245.1" cy="206.9" r="0.66" stroke="none"/>
<circle cx="245.1" cy="194.1" r="0.54" stroke="none"/>
<circle cx="245.1" cy="181.3" r="0.46" stroke="none"/>
<circle cx="245.1" cy="168.5" r="0.41" stroke="none"/>
<path d="M257.1 347.8L257.9 347.7" fill="none"/><path d="M258.7 347.6L257.8 347.0L258.0 348.4Z" stroke="none"/>
<path d="M256.6 335.3L257.9 334.9" fill="none"/><path d="M259.2 334.5L257.6 333.8L258.2 336.0Z" stroke="none"/>
<path d="M256.5 322.8L257.9 322.1" fill="none"/><path d="M259.3 321.4L257.2 320.9L258.6 323.3Z" stroke="none"/>
<path d="M256.7 310.4L257.9 309.3" fill="none"/><path d="M259.1 308.2L256.9 308.2L258.9 310.4Z" stroke="none"/>
<path d="M257.1 297.8L257.9 296.5" fill="none"/><path d="M258.7 295.2L256.7 295.8L259.1 297.2Z" stroke="none"/>
<path d="M257.5 285.2L257.9 283.7" fill="none"/><path d="M258.3 282.2L256.6 283.4L259.2 284.0Z" stroke="none"/>
<path d="M258.0 272.3L257.9 270.9" fill="none"/><path d="M257.8 269.5L256.6 271.0L259.2 270.8Z" stroke="none"/>
<path d="M258.3 259.3L257.9 258.1" fill="none"/><path d="M257.5 256.9L256.9 258.4L258.9 257.8Z" stroke="none"/>
<path d="M258.4 246.1L257.9 245.3" fill="none"/><path d="M257.4 244.5L257.2 245.8L258.6 244.8Z" stroke="none"/>
<path d="M258.4 233.0L257.9 232.5" fill="none"/><path d="M257.4 232.0L257.5 232.9L258.3 232.1Z" stroke="none"/>
<circle cx="257.9" cy="219.7" r="0.82" stroke="none"/>
<circle cx="257.9" cy="206.9" r="0.63" stroke="none"/>
<circle cx="257.9" cy="194.1" r="0.52" stroke="none"/>
<circle cx="257.9" cy="181.3" r="0.45" stroke="none"/>
<circle cx="257.9" cy="168.5" r="0.41" stroke="none"/>
<path d="M270.2 347.8L270.7 347.7" fill="none"/><path d="M271.2 347.6L270.6 347.2L270.8 348.2Z" stroke="none"/>
<path d="M269.8 335.3L270.7 334.9" fill="none"/><path d="M271.6 334.5L270.3 334.1L271.1 335.7Z" stroke="none"/>
<path d="M269.7 322.9L270.7 322.1" fill="none"/><path d="M271.7 321.3L270.0 321.2L271.4 323.0Z" stroke="none"/>
<path d="M269.9 310.5L270.7 309.3" fill="none"/><path d="M271.5 308.1L269.6 308.6L271.8 310.0Z" stroke="none"/>
<path d="M270.1 298.0L270.7 296.5" fill="none"/><path d="M271.3 295.0L269.3 296.0L272.1 297.0Z" stroke="none"/>
<path d="M270.4 285.3L270.7 283.7" fill="none"/><path d="M271.0 282.1L269.2 283.5L272.2 283.9Z" stroke="none"/>
<path d="M270.8 272.5L270.7 270.9" fill="none"/><path d="M270.6 269.3L269.3 270.9L272.1 270.9Z" stroke="none"/>
<path d="M271.0 259.4L270.7 258.1" fill="none"/><path d="M270.4 256.8L269.5 258.3L271.9 257.9Z" stroke="none"/>
<path d="M271.1 246.2L270.7 245.3" fill="none"/><path d="M270.3 244.4L269.9 245.6L271.5 245.0Z" stroke="none"/>
<path d="M271.0 233.1L270.7 232.5" fill="none"/><path d="M270.4 231.9L270.2 232.8L271.2 232.2Z" stroke="none"/>
<circle cx="270.7" cy="219.7" r="0.77" stroke="none"/>
<circle cx="270.7" cy="206.9" r="0.59" stroke="none"/>
<circle cx="270.7" cy="194.1" r="0.49" stroke="none"/>
<circle cx="270.7" cy="181.3" r="0.43" stroke="none"/>
<circle cx="270.7" cy="168.5" r="0.41" stroke="none"/>
<circle cx="283.5" cy="347.7" r="0.71" stroke="none"/>
<path d="M283.0 335.3L283.5 334.9" fill="none"/><path d="M284.0 334.5L283.2 334.4L283.8 335.4Z" stroke="none"/>
<path d="M283.0 322.9L283.5 322.1" fill="none"/><path d="M284.0 321.3L282.8 321.6L284.2 322.6Z" stroke="none"/>
<path d="M283.0 310.4L283.5 309.3" fill="none"/><path d="M284.0 308.2L282.5 308.9L284.5 309.7Z" stroke="none"/>
<path d="M283.2 297.9L283.5 296.5" fill="none"/><path d="M283.8 295.1L282.3 296.2L284.7 296.8Z" stroke="none"/>
<path d="M283.4 285.2L283.5 283.7" fill="none"/><path d="M283.6 282.2L282.1 283.6L284.9 283.8Z" stroke="none"/>
<path d="M283.5 272.3L283.5 270.9" fill="none"/><path d="M283.5 269.5L282.2 270.9L284.8 270.9Z" stroke="none"/>
<path d="M283.7 259.3L283.5 258.1" fill="none"/><path d="M283.3 256.9L282.4 258.2L284.6 258.0Z" stroke="none"/>
<path d="M283.7 246.2L283.5 245.3" fill="none"/><path d="M283.3 244.4L282.7 245.5L284.3 245.1Z" stroke="none"/>
<path d="M283.7 233.0L283.5 232.5" fill="none"/><path d="M283.3 232.0L283.0 232.7L284.0 232.3Z" stroke="none"/>
<circle cx="283.5" cy="219.7" r="0.69" stroke="none"/>
<circle cx="283.5" cy="206.9" r="0.54" stroke="none"/>
<circle cx="283.5" cy="194.1" r="0.46" stroke="none"/>
<circle cx="283.5" cy="181.3" r="0.42" stroke="none"/>
<circle cx="283.5" cy="168.5" r="0.40" stroke="none"/>
<circle cx="296.3" cy="347.7" r="0.53" stroke="none"/>
<circle cx="296.3" cy="334.9" r="0.73" stroke="none"/>
<path d="M296.1 322.6L296.3 322.1" fill="none"/><path d="M296.5 321.6L295.8 321.9L296.8 322.3Z" stroke="none"/>
<path d="M296.1 310.1L296.3 309.3" fill="none"/><path d="M296.5 308.5L295.6 309.1L297.0 309.5Z" stroke="none"/>
<path d="M296.2 297.5L296.3 296.5" fill="none"/><path d="M296.4 295.5L295.4 296.4L297.2 296.6Z" stroke="none"/>
<path d="M296.2 284.8L296.3 283.7" fill="none"/><path d="M296.4 282.6L295.3 283.6L297.3 283.8Z" stroke="none"/>
<path d="M296.3 271.9L296.3 270.9" fill="none"/><path d="M296.3 269.9L295.4 270.9L297.2 270.9Z" stroke="none"/>
<path d="M296.4 258.9L296.3 258.1" fill="none"/><path d="M296.2 257.3L295.5 258.2L297.1 258.0Z" stroke="none"/>
<path d="M296.4 245.9L296.3 245.3" fill="none"/><path d="M296.2 244.7L295.8 245.4L296.8 245.2Z" stroke="none"/>
<circle cx="296.3" cy="232.5" r="0.77" stroke="none"/>
<circle cx="296.3" cy="219.7" r="0.59" stroke="none"/>
<circle cx="296.3" cy="206.9" r="0.49" stroke="none"/>
<circle cx="296.3" cy="194.1" r="0.43" stroke="none"/>
<circle cx="296.3" cy="181.3" r="0.41" stroke="none"/>
<circle cx="296.3" cy="168.5" r="0.40" stroke="none"/>
<circle cx="309.1" cy="347.7" r="0.42" stroke="none"/>
<circle cx="309.1" cy="334.9" r="0.50" stroke="none"/>
<circle cx="309.1" cy="322.1" r="0.59" stroke="none"/>
<circle cx="309.1" cy="309.3" r="0.68" stroke="none"/>
<circle cx="309.1" cy="296.5" r="0.75" stroke="none"/>
<circle cx="309.1" cy="283.7" r="0.78" stroke="none"/>
<circle cx="309.1" cy="270.9" r="0.77" stroke="none"/>
<circle cx="309.1" cy="258.1" r="0.71" stroke="none"/>
<circle cx="309.1" cy="245.3" r="0.62" stroke="none"/>
<circle cx="309.1" cy="232.5" r="0.53" stroke="none"/>
<circle cx="309.1" cy="219.7" r="0.47" stroke="none"/>
<circle cx="309.1" cy="206.9" r="0.43" stroke="none"/>
<circle cx="309.1" cy="194.1" r="0.41" stroke="none"/>
<circle cx="309.1" cy="181.3" r="0.40" stroke="none"/>
<circle cx="309.1" cy="168.5" r="0.40" stroke="none"/>
</g>
<path d="M123 162.5H316" stroke="#2a1400" stroke-opacity="0.55" stroke-width="1.2" fill="none"/><path d="M123.5 162V355M123 354.5H316M315.5 162V355" stroke="#140800" stroke-opacity="0.85" stroke-width="1" fill="none"/>
<rect x="47.5" y="105.5" width="345" height="308" fill="none" stroke="#000" stroke-width="1"/>
<text class="l" x="132.4 138.4 144.4 150.4 156.4 162.4 168.4 174.4 180.4" y="50">Time=1.02</text>
<text y="68.5"><tspan class="c" x="133.5 151.5">表面</tspan><tspan class="l" x="162.4 168.4">: </tspan><tspan class="c" x="175.5 193.5">浓度</tspan><tspan class="l" x="204.4 210.4 216.4 222.4 228.4 234.4 240.4 246.4 252.4 258.4 264.4 270.4 276.4"> , phi [mol/m</tspan><tspan class="l" x="282.4" dy="-4">3</tspan><tspan class="l" x="288.4" dy="4">]</tspan></text>
<text y="86.5"><tspan class="c" x="133.5 151.5">等位</tspan><tspan class="l" x="162.4 168.4">: </tspan><tspan class="c" x="175.5 193.5">浓度</tspan><tspan class="l" x="204.4 210.4 216.4 222.4 228.4 234.4 240.4 246.4 252.4 258.4 264.4 270.4 276.4"> , phi [mol/m</tspan><tspan class="l" x="282.4" dy="-4">3</tspan><tspan class="l" x="288.4" dy="4">]</tspan></text>
<text y="101"><tspan class="c" x="133.5 151.5">箭头</tspan><tspan class="l" x="162.4 168.4">: </tspan><tspan class="c" x="175.5 193.5 211.5">速度场</tspan></text>
<text class="l" x="72.5 78.5 84.5 90.5" y="430">-0.2</text>
<text class="l" x="16.4 22.4 28.4 34.4" y="399.9">-0.2</text>
<text class="l" x="119.9" y="430">0</text>
<text class="l" x="34.4" y="361.5">0</text>
<text class="l" x="152.3 158.3 164.3" y="430">0.2</text>
<text class="l" x="22.4 28.4 34.4" y="323.1">0.2</text>
<text class="l" x="190.7 196.7 202.7" y="430">0.4</text>
<text class="l" x="22.4 28.4 34.4" y="284.7">0.4</text>
<text class="l" x="229.1 235.1 241.1" y="430">0.6</text>
<text class="l" x="22.4 28.4 34.4" y="246.3">0.6</text>
<text class="l" x="267.5 273.5 279.5" y="430">0.8</text>
<text class="l" x="22.4 28.4 34.4" y="207.9">0.8</text>
<text class="l" x="311.9" y="430">1</text>
<text class="l" x="34.4" y="169.5">1</text>
<text class="l" x="344.3 350.3 356.3" y="430">1.2</text>
<text class="l" x="22.4 28.4 34.4" y="131.1">1.2</text>
<rect x="412.5" y="58.5" width="22" height="364" fill="url(#cb)" stroke="#000" stroke-opacity="0.75" stroke-width="1"/>
<text class="l" x="437.4 443.4 449.4 455.4" y="403.257">-0.4</text>
<text class="l" x="437.4 443.4 449.4 455.4" y="351.772">-0.2</text>
<text class="l" x="437.4" y="300.287">0</text>
<text class="l" x="437.4 443.4 449.4" y="248.802">0.2</text>
<text class="l" x="437.4 443.4 449.4" y="197.317">0.4</text>
<text class="l" x="437.4 443.4 449.4" y="145.832">0.6</text>
<text class="l" x="437.4 443.4 449.4" y="94.3465">0.8</text>
<path d="M413 396.5h3M432 396.5h3M413 345.5h3M432 345.5h3M413 293.5h3M432 293.5h3M413 242.5h3M432 242.5h3M413 190.5h3M432 190.5h3M413 139.5h3M432 139.5h3M413 87.5h3M432 87.5h3" stroke="#000" stroke-width="1" fill="none"/>
<text y="50"><tspan class="c" x="413.5 431.5 449.5">最大值</tspan><tspan class="l" x="460.4 466.4 472.4 478.4 484.4 490.4 496.4">: 0.914</tspan></text>
<text y="445.5"><tspan class="c" x="413.5 431.5 449.5">最小值</tspan><tspan class="l" x="460.4 466.4 472.4 478.4 484.4 490.4 496.4 502.4">: -0.500</tspan></text>
<rect x="524.5" y="58.5" width="22" height="364" fill="#fff" stroke="#000" stroke-width="1"/>
<path d="M525 419.9H546" stroke="#1ec9d3" stroke-width="3"/>
<text class="l" x="549.4 555.4 561.4 567.4 573.4 579.4" y="426.62">-0.465</text>
<path d="M525 400.9H546" stroke="#27c0d3" stroke-width="3"/>
<text class="l" x="549.4 555.4 561.4 567.4 573.4 579.4" y="407.64">-0.394</text>
<path d="M525 382.0H546" stroke="#30b7d3" stroke-width="3"/>
<text class="l" x="549.4 555.4 561.4 567.4 573.4 579.4" y="388.66">-0.323</text>
<path d="M525 363.0H546" stroke="#39aed3" stroke-width="3"/>
<text class="l" x="549.4 555.4 561.4 567.4 573.4 579.4" y="369.68">-0.253</text>
<path d="M525 344.0H546" stroke="#42a5d3" stroke-width="3"/>
<text class="l" x="549.4 555.4 561.4 567.4 573.4 579.4" y="350.7">-0.182</text>
<path d="M525 325.0H546" stroke="#4b9cd3" stroke-width="3"/>
<text class="l" x="549.4 555.4 561.4 567.4 573.4 579.4" y="331.72">-0.111</text>
<path d="M525 306.0H546" stroke="#5493d3" stroke-width="3"/>
<text class="l" x="549.4 555.4 561.4 567.4 573.4" y="312.74">-0.04</text>
<path d="M525 287.1H546" stroke="#5d8ad3" stroke-width="3"/>
<text class="l" x="549.4 555.4 561.4 567.4" y="293.76">0.03</text>
<path d="M525 268.1H546" stroke="#6681d3" stroke-width="3"/>
<text class="l" x="549.4 555.4 561.4 567.4 573.4" y="274.78">0.101</text>
<path d="M525 249.1H546" stroke="#6f78d3" stroke-width="3"/>
<text class="l" x="549.4 555.4 561.4 567.4 573.4" y="255.8">0.172</text>
<path d="M525 230.1H546" stroke="#786fd3" stroke-width="3"/>
<text class="l" x="549.4 555.4 561.4 567.4 573.4" y="236.82">0.242</text>
<path d="M525 211.1H546" stroke="#8166d3" stroke-width="3"/>
<text class="l" x="549.4 555.4 561.4 567.4 573.4" y="217.84">0.313</text>
<path d="M525 192.2H546" stroke="#8a5dd3" stroke-width="3"/>
<text class="l" x="549.4 555.4 561.4 567.4 573.4" y="198.86">0.384</text>
<path d="M525 173.2H546" stroke="#9354d3" stroke-width="3"/>
<text class="l" x="549.4 555.4 561.4 567.4 573.4" y="179.88">0.455</text>
<path d="M525 154.2H546" stroke="#9c4bd3" stroke-width="3"/>
<text class="l" x="549.4 555.4 561.4 567.4 573.4" y="160.9">0.525</text>
<path d="M525 135.2H546" stroke="#a542d3" stroke-width="3"/>
<text class="l" x="549.4 555.4 561.4 567.4 573.4" y="141.92">0.596</text>
<path d="M525 116.2H546" stroke="#ae39d3" stroke-width="3"/>
<text class="l" x="549.4 555.4 561.4 567.4 573.4" y="122.94">0.667</text>
<path d="M525 97.3H546" stroke="#b730d3" stroke-width="3"/>
<text class="l" x="549.4 555.4 561.4 567.4 573.4" y="103.96">0.737</text>
<path d="M525 78.3H546" stroke="#c027d3" stroke-width="3"/>
<text class="l" x="549.4 555.4 561.4 567.4 573.4" y="84.98">0.808</text>
<path d="M525 60.5H546" stroke="#c91ed3" stroke-width="3"/>
<text class="l" x="549.4 555.4 561.4 567.4 573.4" y="67">0.879</text>
<rect x="524.5" y="58.5" width="22" height="364" fill="none" stroke="#000" stroke-width="1"/>
<text y="50"><tspan class="c" x="525.5 543.5 561.5">最大值</tspan><tspan class="l" x="572.4 578.4 584.4 590.4 596.4 602.4 608.4">: 0.879</tspan></text>
<text y="445.5"><tspan class="c" x="525.5 543.5 561.5">最小值</tspan><tspan class="l" x="572.4 578.4 584.4 590.4 596.4 602.4 608.4 614.4">: -0.465</tspan></text>
</svg></body></html>
